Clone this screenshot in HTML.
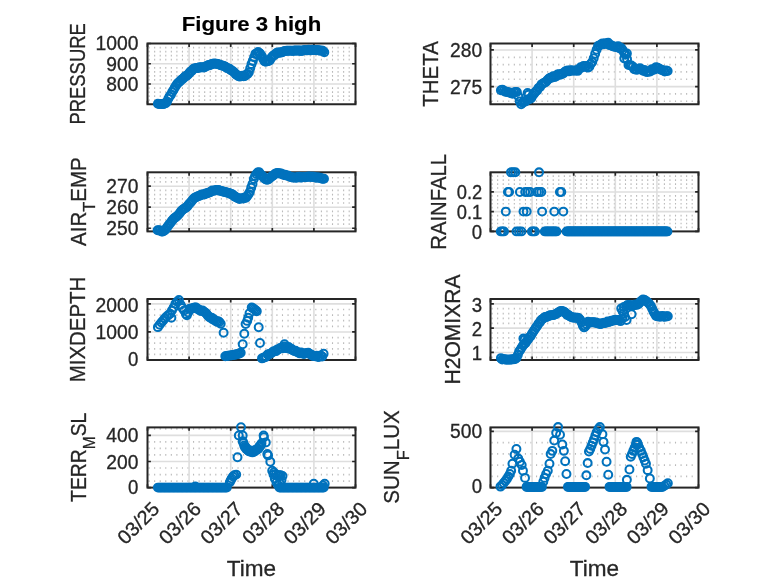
<!DOCTYPE html>
<html lang="en"><head><meta charset="utf-8"><title>Figure 3 high</title>
<style>html,body{margin:0;padding:0;background:#fff}body{width:778px;height:583px;overflow:hidden}svg{display:block}text{font-family:'Liberation Sans', 'DejaVu Sans', sans-serif;fill:#262626;stroke:#262626;stroke-width:.3px}.t{font-size:19.7px}.l{font-size:21.7px}.m circle{fill:none;stroke:#0072BD;stroke-width:2.05}</style></head><body>
<svg width="778" height="583" viewBox="0 0 778 583">
<rect width="778" height="583" fill="#fff"/>
<g><path d="M149.1 99.35v1.7M149.1 95.3v1.7M149.1 91.25v1.7M149.1 87.2v1.7M149.1 79.1v1.7M149.1 75.05v1.7M149.1 71v1.7M149.1 66.95v1.7M149.1 58.85v1.7M149.1 54.8v1.7M149.1 50.75v1.7M149.1 46.7v1.7M154.66 99.35v1.7M154.66 95.3v1.7M154.66 91.25v1.7M154.66 87.2v1.7M154.66 79.1v1.7M154.66 75.05v1.7M154.66 71v1.7M154.66 66.95v1.7M154.66 58.85v1.7M154.66 54.8v1.7M154.66 50.75v1.7M154.66 46.7v1.7M160.22 99.35v1.7M160.22 95.3v1.7M160.22 91.25v1.7M160.22 87.2v1.7M160.22 79.1v1.7M160.22 75.05v1.7M160.22 71v1.7M160.22 66.95v1.7M160.22 58.85v1.7M160.22 54.8v1.7M160.22 50.75v1.7M160.22 46.7v1.7M165.77 99.35v1.7M165.77 95.3v1.7M165.77 91.25v1.7M165.77 87.2v1.7M165.77 79.1v1.7M165.77 75.05v1.7M165.77 71v1.7M165.77 66.95v1.7M165.77 58.85v1.7M165.77 54.8v1.7M165.77 50.75v1.7M165.77 46.7v1.7M171.33 99.35v1.7M171.33 95.3v1.7M171.33 91.25v1.7M171.33 87.2v1.7M171.33 79.1v1.7M171.33 75.05v1.7M171.33 71v1.7M171.33 66.95v1.7M171.33 58.85v1.7M171.33 54.8v1.7M171.33 50.75v1.7M171.33 46.7v1.7M176.89 99.35v1.7M176.89 95.3v1.7M176.89 91.25v1.7M176.89 87.2v1.7M176.89 79.1v1.7M176.89 75.05v1.7M176.89 71v1.7M176.89 66.95v1.7M176.89 58.85v1.7M176.89 54.8v1.7M176.89 50.75v1.7M176.89 46.7v1.7M182.45 99.35v1.7M182.45 95.3v1.7M182.45 91.25v1.7M182.45 87.2v1.7M182.45 79.1v1.7M182.45 75.05v1.7M182.45 71v1.7M182.45 66.95v1.7M182.45 58.85v1.7M182.45 54.8v1.7M182.45 50.75v1.7M182.45 46.7v1.7M188.01 99.35v1.7M188.01 95.3v1.7M188.01 91.25v1.7M188.01 87.2v1.7M188.01 79.1v1.7M188.01 75.05v1.7M188.01 71v1.7M188.01 66.95v1.7M188.01 58.85v1.7M188.01 54.8v1.7M188.01 50.75v1.7M188.01 46.7v1.7M193.56 99.35v1.7M193.56 95.3v1.7M193.56 91.25v1.7M193.56 87.2v1.7M193.56 79.1v1.7M193.56 75.05v1.7M193.56 71v1.7M193.56 66.95v1.7M193.56 58.85v1.7M193.56 54.8v1.7M193.56 50.75v1.7M193.56 46.7v1.7M199.12 99.35v1.7M199.12 95.3v1.7M199.12 91.25v1.7M199.12 87.2v1.7M199.12 79.1v1.7M199.12 75.05v1.7M199.12 71v1.7M199.12 66.95v1.7M199.12 58.85v1.7M199.12 54.8v1.7M199.12 50.75v1.7M199.12 46.7v1.7M204.68 99.35v1.7M204.68 95.3v1.7M204.68 91.25v1.7M204.68 87.2v1.7M204.68 79.1v1.7M204.68 75.05v1.7M204.68 71v1.7M204.68 66.95v1.7M204.68 58.85v1.7M204.68 54.8v1.7M204.68 50.75v1.7M204.68 46.7v1.7M210.24 99.35v1.7M210.24 95.3v1.7M210.24 91.25v1.7M210.24 87.2v1.7M210.24 79.1v1.7M210.24 75.05v1.7M210.24 71v1.7M210.24 66.95v1.7M210.24 58.85v1.7M210.24 54.8v1.7M210.24 50.75v1.7M210.24 46.7v1.7M215.8 99.35v1.7M215.8 95.3v1.7M215.8 91.25v1.7M215.8 87.2v1.7M215.8 79.1v1.7M215.8 75.05v1.7M215.8 71v1.7M215.8 66.95v1.7M215.8 58.85v1.7M215.8 54.8v1.7M215.8 50.75v1.7M215.8 46.7v1.7M221.35 99.35v1.7M221.35 95.3v1.7M221.35 91.25v1.7M221.35 87.2v1.7M221.35 79.1v1.7M221.35 75.05v1.7M221.35 71v1.7M221.35 66.95v1.7M221.35 58.85v1.7M221.35 54.8v1.7M221.35 50.75v1.7M221.35 46.7v1.7M226.91 99.35v1.7M226.91 95.3v1.7M226.91 91.25v1.7M226.91 87.2v1.7M226.91 79.1v1.7M226.91 75.05v1.7M226.91 71v1.7M226.91 66.95v1.7M226.91 58.85v1.7M226.91 54.8v1.7M226.91 50.75v1.7M226.91 46.7v1.7M232.47 99.35v1.7M232.47 95.3v1.7M232.47 91.25v1.7M232.47 87.2v1.7M232.47 79.1v1.7M232.47 75.05v1.7M232.47 71v1.7M232.47 66.95v1.7M232.47 58.85v1.7M232.47 54.8v1.7M232.47 50.75v1.7M232.47 46.7v1.7M238.03 99.35v1.7M238.03 95.3v1.7M238.03 91.25v1.7M238.03 87.2v1.7M238.03 79.1v1.7M238.03 75.05v1.7M238.03 71v1.7M238.03 66.95v1.7M238.03 58.85v1.7M238.03 54.8v1.7M238.03 50.75v1.7M238.03 46.7v1.7M243.59 99.35v1.7M243.59 95.3v1.7M243.59 91.25v1.7M243.59 87.2v1.7M243.59 79.1v1.7M243.59 75.05v1.7M243.59 71v1.7M243.59 66.95v1.7M243.59 58.85v1.7M243.59 54.8v1.7M243.59 50.75v1.7M243.59 46.7v1.7M249.14 99.35v1.7M249.14 95.3v1.7M249.14 91.25v1.7M249.14 87.2v1.7M249.14 79.1v1.7M249.14 75.05v1.7M249.14 71v1.7M249.14 66.95v1.7M249.14 58.85v1.7M249.14 54.8v1.7M249.14 50.75v1.7M249.14 46.7v1.7M254.7 99.35v1.7M254.7 95.3v1.7M254.7 91.25v1.7M254.7 87.2v1.7M254.7 79.1v1.7M254.7 75.05v1.7M254.7 71v1.7M254.7 66.95v1.7M254.7 58.85v1.7M254.7 54.8v1.7M254.7 50.75v1.7M254.7 46.7v1.7M260.26 99.35v1.7M260.26 95.3v1.7M260.26 91.25v1.7M260.26 87.2v1.7M260.26 79.1v1.7M260.26 75.05v1.7M260.26 71v1.7M260.26 66.95v1.7M260.26 58.85v1.7M260.26 54.8v1.7M260.26 50.75v1.7M260.26 46.7v1.7M265.82 99.35v1.7M265.82 95.3v1.7M265.82 91.25v1.7M265.82 87.2v1.7M265.82 79.1v1.7M265.82 75.05v1.7M265.82 71v1.7M265.82 66.95v1.7M265.82 58.85v1.7M265.82 54.8v1.7M265.82 50.75v1.7M265.82 46.7v1.7M271.38 99.35v1.7M271.38 95.3v1.7M271.38 91.25v1.7M271.38 87.2v1.7M271.38 79.1v1.7M271.38 75.05v1.7M271.38 71v1.7M271.38 66.95v1.7M271.38 58.85v1.7M271.38 54.8v1.7M271.38 50.75v1.7M271.38 46.7v1.7M276.93 99.35v1.7M276.93 95.3v1.7M276.93 91.25v1.7M276.93 87.2v1.7M276.93 79.1v1.7M276.93 75.05v1.7M276.93 71v1.7M276.93 66.95v1.7M276.93 58.85v1.7M276.93 54.8v1.7M276.93 50.75v1.7M276.93 46.7v1.7M282.49 99.35v1.7M282.49 95.3v1.7M282.49 91.25v1.7M282.49 87.2v1.7M282.49 79.1v1.7M282.49 75.05v1.7M282.49 71v1.7M282.49 66.95v1.7M282.49 58.85v1.7M282.49 54.8v1.7M282.49 50.75v1.7M282.49 46.7v1.7M288.05 99.35v1.7M288.05 95.3v1.7M288.05 91.25v1.7M288.05 87.2v1.7M288.05 79.1v1.7M288.05 75.05v1.7M288.05 71v1.7M288.05 66.95v1.7M288.05 58.85v1.7M288.05 54.8v1.7M288.05 50.75v1.7M288.05 46.7v1.7M293.61 99.35v1.7M293.61 95.3v1.7M293.61 91.25v1.7M293.61 87.2v1.7M293.61 79.1v1.7M293.61 75.05v1.7M293.61 71v1.7M293.61 66.95v1.7M293.61 58.85v1.7M293.61 54.8v1.7M293.61 50.75v1.7M293.61 46.7v1.7M299.17 99.35v1.7M299.17 95.3v1.7M299.17 91.25v1.7M299.17 87.2v1.7M299.17 79.1v1.7M299.17 75.05v1.7M299.17 71v1.7M299.17 66.95v1.7M299.17 58.85v1.7M299.17 54.8v1.7M299.17 50.75v1.7M299.17 46.7v1.7M304.72 99.35v1.7M304.72 95.3v1.7M304.72 91.25v1.7M304.72 87.2v1.7M304.72 79.1v1.7M304.72 75.05v1.7M304.72 71v1.7M304.72 66.95v1.7M304.72 58.85v1.7M304.72 54.8v1.7M304.72 50.75v1.7M304.72 46.7v1.7M310.28 99.35v1.7M310.28 95.3v1.7M310.28 91.25v1.7M310.28 87.2v1.7M310.28 79.1v1.7M310.28 75.05v1.7M310.28 71v1.7M310.28 66.95v1.7M310.28 58.85v1.7M310.28 54.8v1.7M310.28 50.75v1.7M310.28 46.7v1.7M315.84 99.35v1.7M315.84 95.3v1.7M315.84 91.25v1.7M315.84 87.2v1.7M315.84 79.1v1.7M315.84 75.05v1.7M315.84 71v1.7M315.84 66.95v1.7M315.84 58.85v1.7M315.84 54.8v1.7M315.84 50.75v1.7M315.84 46.7v1.7M321.4 99.35v1.7M321.4 95.3v1.7M321.4 91.25v1.7M321.4 87.2v1.7M321.4 79.1v1.7M321.4 75.05v1.7M321.4 71v1.7M321.4 66.95v1.7M321.4 58.85v1.7M321.4 54.8v1.7M321.4 50.75v1.7M321.4 46.7v1.7M326.96 99.35v1.7M326.96 95.3v1.7M326.96 91.25v1.7M326.96 87.2v1.7M326.96 79.1v1.7M326.96 75.05v1.7M326.96 71v1.7M326.96 66.95v1.7M326.96 58.85v1.7M326.96 54.8v1.7M326.96 50.75v1.7M326.96 46.7v1.7M332.51 99.35v1.7M332.51 95.3v1.7M332.51 91.25v1.7M332.51 87.2v1.7M332.51 79.1v1.7M332.51 75.05v1.7M332.51 71v1.7M332.51 66.95v1.7M332.51 58.85v1.7M332.51 54.8v1.7M332.51 50.75v1.7M332.51 46.7v1.7M338.07 99.35v1.7M338.07 95.3v1.7M338.07 91.25v1.7M338.07 87.2v1.7M338.07 79.1v1.7M338.07 75.05v1.7M338.07 71v1.7M338.07 66.95v1.7M338.07 58.85v1.7M338.07 54.8v1.7M338.07 50.75v1.7M338.07 46.7v1.7M343.63 99.35v1.7M343.63 95.3v1.7M343.63 91.25v1.7M343.63 87.2v1.7M343.63 79.1v1.7M343.63 75.05v1.7M343.63 71v1.7M343.63 66.95v1.7M343.63 58.85v1.7M343.63 54.8v1.7M343.63 50.75v1.7M343.63 46.7v1.7M349.19 99.35v1.7M349.19 95.3v1.7M349.19 91.25v1.7M349.19 87.2v1.7M349.19 79.1v1.7M349.19 75.05v1.7M349.19 71v1.7M349.19 66.95v1.7M349.19 58.85v1.7M349.19 54.8v1.7M349.19 50.75v1.7M349.19 46.7v1.7" stroke="#bababa" stroke-width="1.1" fill="none"/><path d="M189.1 43.5V104.25M230.7 43.5V104.25M272.3 43.5V104.25M313.9 43.5V104.25M147.5 84H355.5M147.5 63.75H355.5" stroke="#dedede" stroke-width="1.6" fill="none"/><path d="M147.5 104.25v-3.4M147.5 43.5v3.4M189.1 104.25v-3.4M189.1 43.5v3.4M230.7 104.25v-3.4M230.7 43.5v3.4M272.3 104.25v-3.4M272.3 43.5v3.4M313.9 104.25v-3.4M313.9 43.5v3.4M355.5 104.25v-3.4M355.5 43.5v3.4M147.5 84h3.4M355.5 84h-3.4M147.5 63.75h3.4M355.5 63.75h-3.4M147.5 43.5h3.4M355.5 43.5h-3.4" stroke="#262626" stroke-width="1.7" fill="none"/><rect x="147.5" y="43.5" width="208" height="60.75" fill="none" stroke="#262626" stroke-width="2"/><text class="t" x="138.4" y="91" text-anchor="end" textLength="32.1" lengthAdjust="spacingAndGlyphs">800</text><text class="t" x="138.4" y="70.8" text-anchor="end" textLength="32.1" lengthAdjust="spacingAndGlyphs">900</text><text class="t" x="138.4" y="49.9" text-anchor="end" textLength="42.97" lengthAdjust="spacingAndGlyphs">1000</text><text class="l" transform="translate(84.8 73.88) rotate(-90)" text-anchor="middle" textLength="101.4" lengthAdjust="spacingAndGlyphs">PRESSURE</text><g class="m"><circle cx="157.9" cy="103.74" r="3.95"/><circle cx="159.2" cy="104.04" r="3.95"/><circle cx="160.5" cy="103.87" r="3.95"/><circle cx="161.8" cy="104.1" r="3.95"/><circle cx="163.1" cy="104.13" r="3.95"/><circle cx="164.4" cy="103.57" r="3.95"/><circle cx="165.7" cy="103.33" r="3.95"/><circle cx="167" cy="101.76" r="3.95"/><circle cx="168.3" cy="98.78" r="3.95"/><circle cx="169.6" cy="96.36" r="3.95"/><circle cx="170.9" cy="94.75" r="3.95"/><circle cx="172.2" cy="91.97" r="3.95"/><circle cx="173.5" cy="90.09" r="3.95"/><circle cx="174.8" cy="87.48" r="3.95"/><circle cx="176.1" cy="85.5" r="3.95"/><circle cx="177.4" cy="83.47" r="3.95"/><circle cx="178.7" cy="82.42" r="3.95"/><circle cx="180" cy="81.22" r="3.95"/><circle cx="181.3" cy="79.81" r="3.95"/><circle cx="182.6" cy="78.96" r="3.95"/><circle cx="183.9" cy="77.84" r="3.95"/><circle cx="185.2" cy="76.24" r="3.95"/><circle cx="186.5" cy="75.94" r="3.95"/><circle cx="187.8" cy="74.78" r="3.95"/><circle cx="189.1" cy="73.36" r="3.95"/><circle cx="190.4" cy="71.63" r="3.95"/><circle cx="191.7" cy="71.02" r="3.95"/><circle cx="193" cy="69.18" r="3.95"/><circle cx="194.3" cy="68.36" r="3.95"/><circle cx="195.6" cy="68.34" r="3.95"/><circle cx="196.9" cy="67.99" r="3.95"/><circle cx="198.2" cy="68.02" r="3.95"/><circle cx="199.5" cy="67.31" r="3.95"/><circle cx="200.8" cy="67.56" r="3.95"/><circle cx="202.1" cy="67.11" r="3.95"/><circle cx="203.4" cy="67.5" r="3.95"/><circle cx="204.7" cy="67.34" r="3.95"/><circle cx="206" cy="66.25" r="3.95"/><circle cx="207.3" cy="65.65" r="3.95"/><circle cx="208.6" cy="65.1" r="3.95"/><circle cx="209.9" cy="65.21" r="3.95"/><circle cx="211.2" cy="64.2" r="3.95"/><circle cx="212.5" cy="64.09" r="3.95"/><circle cx="213.8" cy="63.46" r="3.95"/><circle cx="215.1" cy="63.64" r="3.95"/><circle cx="216.4" cy="63.8" r="3.95"/><circle cx="217.7" cy="64.04" r="3.95"/><circle cx="219" cy="64.56" r="3.95"/><circle cx="220.3" cy="64.87" r="3.95"/><circle cx="221.6" cy="65.52" r="3.95"/><circle cx="222.9" cy="65.64" r="3.95"/><circle cx="224.2" cy="66.22" r="3.95"/><circle cx="225.5" cy="66.74" r="3.95"/><circle cx="226.8" cy="67.86" r="3.95"/><circle cx="228.1" cy="68.47" r="3.95"/><circle cx="229.4" cy="68.63" r="3.95"/><circle cx="230.7" cy="69.99" r="3.95"/><circle cx="232" cy="70.75" r="3.95"/><circle cx="233.3" cy="71.55" r="3.95"/><circle cx="234.6" cy="72.72" r="3.95"/><circle cx="235.9" cy="74.36" r="3.95"/><circle cx="237.2" cy="75.13" r="3.95"/><circle cx="238.5" cy="76.28" r="3.95"/><circle cx="239.8" cy="76.55" r="3.95"/><circle cx="241.1" cy="76.16" r="3.95"/><circle cx="242.4" cy="75.65" r="3.95"/><circle cx="243.7" cy="76.15" r="3.95"/><circle cx="245" cy="75.99" r="3.95"/><circle cx="246.3" cy="74.49" r="3.95"/><circle cx="247.6" cy="73.9" r="3.95"/><circle cx="248.9" cy="72.21" r="3.95"/><circle cx="250.2" cy="68.2" r="3.95"/><circle cx="251.5" cy="64.14" r="3.95"/><circle cx="252.8" cy="60.88" r="3.95"/><circle cx="254.1" cy="57.32" r="3.95"/><circle cx="255.4" cy="53.88" r="3.95"/><circle cx="256.7" cy="53.49" r="3.95"/><circle cx="258" cy="51.96" r="3.95"/><circle cx="259.3" cy="52.89" r="3.95"/><circle cx="260.6" cy="54.17" r="3.95"/><circle cx="261.9" cy="56.38" r="3.95"/><circle cx="263.2" cy="59.08" r="3.95"/><circle cx="264.5" cy="61.21" r="3.95"/><circle cx="265.8" cy="61.76" r="3.95"/><circle cx="267.1" cy="61.13" r="3.95"/><circle cx="268.4" cy="60.95" r="3.95"/><circle cx="269.7" cy="60.53" r="3.95"/><circle cx="271" cy="58.16" r="3.95"/><circle cx="272.3" cy="56.53" r="3.95"/><circle cx="273.6" cy="55.39" r="3.95"/><circle cx="274.9" cy="54.64" r="3.95"/><circle cx="276.2" cy="53.22" r="3.95"/><circle cx="277.5" cy="52.54" r="3.95"/><circle cx="278.8" cy="53.04" r="3.95"/><circle cx="280.1" cy="52.16" r="3.95"/><circle cx="281.4" cy="52.48" r="3.95"/><circle cx="282.7" cy="52.09" r="3.95"/><circle cx="284" cy="51.24" r="3.95"/><circle cx="285.3" cy="50.99" r="3.95"/><circle cx="286.6" cy="50.72" r="3.95"/><circle cx="287.9" cy="50.73" r="3.95"/><circle cx="289.2" cy="50.67" r="3.95"/><circle cx="290.5" cy="50.62" r="3.95"/><circle cx="291.8" cy="50.66" r="3.95"/><circle cx="293.1" cy="50.96" r="3.95"/><circle cx="294.4" cy="50.51" r="3.95"/><circle cx="295.7" cy="50.46" r="3.95"/><circle cx="297" cy="50.81" r="3.95"/><circle cx="298.3" cy="50.38" r="3.95"/><circle cx="299.6" cy="50.5" r="3.95"/><circle cx="300.9" cy="51.11" r="3.95"/><circle cx="302.2" cy="50.59" r="3.95"/><circle cx="303.5" cy="50.55" r="3.95"/><circle cx="304.8" cy="49.95" r="3.95"/><circle cx="306.1" cy="50.29" r="3.95"/><circle cx="307.4" cy="50.39" r="3.95"/><circle cx="308.7" cy="49.76" r="3.95"/><circle cx="310" cy="50.29" r="3.95"/><circle cx="311.3" cy="50.25" r="3.95"/><circle cx="312.6" cy="49.61" r="3.95"/><circle cx="313.9" cy="50.14" r="3.95"/><circle cx="315.2" cy="50.06" r="3.95"/><circle cx="316.5" cy="50.34" r="3.95"/><circle cx="317.8" cy="50.09" r="3.95"/><circle cx="319.1" cy="50.52" r="3.95"/><circle cx="320.4" cy="50.62" r="3.95"/><circle cx="321.7" cy="50.36" r="3.95"/><circle cx="323" cy="50.98" r="3.95"/><circle cx="324.3" cy="52.17" r="3.95"/></g><text x="251.5" y="30.5" text-anchor="middle" font-size="21px" font-weight="bold" style="fill:#000;stroke:#000;stroke-width:.15px" textLength="139.5" lengthAdjust="spacingAndGlyphs">Figure 3 high</text></g>
<g><path d="M492.1 100.4v1.7M492.1 93.07v1.7M492.1 78.41v1.7M492.1 71.08v1.7M492.1 63.75v1.7M492.1 56.43v1.7M497.66 100.4v1.7M497.66 93.07v1.7M497.66 78.41v1.7M497.66 71.08v1.7M497.66 63.75v1.7M497.66 56.43v1.7M503.22 100.4v1.7M503.22 93.07v1.7M503.22 78.41v1.7M503.22 71.08v1.7M503.22 63.75v1.7M503.22 56.43v1.7M508.77 100.4v1.7M508.77 93.07v1.7M508.77 78.41v1.7M508.77 71.08v1.7M508.77 63.75v1.7M508.77 56.43v1.7M514.33 100.4v1.7M514.33 93.07v1.7M514.33 78.41v1.7M514.33 71.08v1.7M514.33 63.75v1.7M514.33 56.43v1.7M519.89 100.4v1.7M519.89 93.07v1.7M519.89 78.41v1.7M519.89 71.08v1.7M519.89 63.75v1.7M519.89 56.43v1.7M525.45 100.4v1.7M525.45 93.07v1.7M525.45 78.41v1.7M525.45 71.08v1.7M525.45 63.75v1.7M525.45 56.43v1.7M531.01 100.4v1.7M531.01 93.07v1.7M531.01 78.41v1.7M531.01 71.08v1.7M531.01 63.75v1.7M531.01 56.43v1.7M536.56 100.4v1.7M536.56 93.07v1.7M536.56 78.41v1.7M536.56 71.08v1.7M536.56 63.75v1.7M536.56 56.43v1.7M542.12 100.4v1.7M542.12 93.07v1.7M542.12 78.41v1.7M542.12 71.08v1.7M542.12 63.75v1.7M542.12 56.43v1.7M547.68 100.4v1.7M547.68 93.07v1.7M547.68 78.41v1.7M547.68 71.08v1.7M547.68 63.75v1.7M547.68 56.43v1.7M553.24 100.4v1.7M553.24 93.07v1.7M553.24 78.41v1.7M553.24 71.08v1.7M553.24 63.75v1.7M553.24 56.43v1.7M558.8 100.4v1.7M558.8 93.07v1.7M558.8 78.41v1.7M558.8 71.08v1.7M558.8 63.75v1.7M558.8 56.43v1.7M564.35 100.4v1.7M564.35 93.07v1.7M564.35 78.41v1.7M564.35 71.08v1.7M564.35 63.75v1.7M564.35 56.43v1.7M569.91 100.4v1.7M569.91 93.07v1.7M569.91 78.41v1.7M569.91 71.08v1.7M569.91 63.75v1.7M569.91 56.43v1.7M575.47 100.4v1.7M575.47 93.07v1.7M575.47 78.41v1.7M575.47 71.08v1.7M575.47 63.75v1.7M575.47 56.43v1.7M581.03 100.4v1.7M581.03 93.07v1.7M581.03 78.41v1.7M581.03 71.08v1.7M581.03 63.75v1.7M581.03 56.43v1.7M586.59 100.4v1.7M586.59 93.07v1.7M586.59 78.41v1.7M586.59 71.08v1.7M586.59 63.75v1.7M586.59 56.43v1.7M592.14 100.4v1.7M592.14 93.07v1.7M592.14 78.41v1.7M592.14 71.08v1.7M592.14 63.75v1.7M592.14 56.43v1.7M597.7 100.4v1.7M597.7 93.07v1.7M597.7 78.41v1.7M597.7 71.08v1.7M597.7 63.75v1.7M597.7 56.43v1.7M603.26 100.4v1.7M603.26 93.07v1.7M603.26 78.41v1.7M603.26 71.08v1.7M603.26 63.75v1.7M603.26 56.43v1.7M608.82 100.4v1.7M608.82 93.07v1.7M608.82 78.41v1.7M608.82 71.08v1.7M608.82 63.75v1.7M608.82 56.43v1.7M614.38 100.4v1.7M614.38 93.07v1.7M614.38 78.41v1.7M614.38 71.08v1.7M614.38 63.75v1.7M614.38 56.43v1.7M619.93 100.4v1.7M619.93 93.07v1.7M619.93 78.41v1.7M619.93 71.08v1.7M619.93 63.75v1.7M619.93 56.43v1.7M625.49 100.4v1.7M625.49 93.07v1.7M625.49 78.41v1.7M625.49 71.08v1.7M625.49 63.75v1.7M625.49 56.43v1.7M631.05 100.4v1.7M631.05 93.07v1.7M631.05 78.41v1.7M631.05 71.08v1.7M631.05 63.75v1.7M631.05 56.43v1.7M636.61 100.4v1.7M636.61 93.07v1.7M636.61 78.41v1.7M636.61 71.08v1.7M636.61 63.75v1.7M636.61 56.43v1.7M642.17 100.4v1.7M642.17 93.07v1.7M642.17 78.41v1.7M642.17 71.08v1.7M642.17 63.75v1.7M642.17 56.43v1.7M647.72 100.4v1.7M647.72 93.07v1.7M647.72 78.41v1.7M647.72 71.08v1.7M647.72 63.75v1.7M647.72 56.43v1.7M653.28 100.4v1.7M653.28 93.07v1.7M653.28 78.41v1.7M653.28 71.08v1.7M653.28 63.75v1.7M653.28 56.43v1.7M658.84 100.4v1.7M658.84 93.07v1.7M658.84 78.41v1.7M658.84 71.08v1.7M658.84 63.75v1.7M658.84 56.43v1.7M664.4 100.4v1.7M664.4 93.07v1.7M664.4 78.41v1.7M664.4 71.08v1.7M664.4 63.75v1.7M664.4 56.43v1.7M669.96 100.4v1.7M669.96 93.07v1.7M669.96 78.41v1.7M669.96 71.08v1.7M669.96 63.75v1.7M669.96 56.43v1.7M675.51 100.4v1.7M675.51 93.07v1.7M675.51 78.41v1.7M675.51 71.08v1.7M675.51 63.75v1.7M675.51 56.43v1.7M681.07 100.4v1.7M681.07 93.07v1.7M681.07 78.41v1.7M681.07 71.08v1.7M681.07 63.75v1.7M681.07 56.43v1.7M686.63 100.4v1.7M686.63 93.07v1.7M686.63 78.41v1.7M686.63 71.08v1.7M686.63 63.75v1.7M686.63 56.43v1.7M692.19 100.4v1.7M692.19 93.07v1.7M692.19 78.41v1.7M692.19 71.08v1.7M692.19 63.75v1.7M692.19 56.43v1.7" stroke="#bababa" stroke-width="1.1" fill="none"/><path d="M532.1 43.5V104.25M573.7 43.5V104.25M615.3 43.5V104.25M656.9 43.5V104.25M490.5 86.59H698.5M490.5 49.95H698.5" stroke="#dedede" stroke-width="1.6" fill="none"/><path d="M490.5 104.25v-3.4M490.5 43.5v3.4M532.1 104.25v-3.4M532.1 43.5v3.4M573.7 104.25v-3.4M573.7 43.5v3.4M615.3 104.25v-3.4M615.3 43.5v3.4M656.9 104.25v-3.4M656.9 43.5v3.4M698.5 104.25v-3.4M698.5 43.5v3.4M490.5 86.59h3.4M698.5 86.59h-3.4M490.5 49.95h3.4M698.5 49.95h-3.4" stroke="#262626" stroke-width="1.7" fill="none"/><rect x="490.5" y="43.5" width="208" height="60.75" fill="none" stroke="#262626" stroke-width="2"/><text class="t" x="482.2" y="93.9" text-anchor="end" textLength="32.1" lengthAdjust="spacingAndGlyphs">275</text><text class="t" x="482.2" y="56.8" text-anchor="end" textLength="32.1" lengthAdjust="spacingAndGlyphs">280</text><text class="l" transform="translate(437.8 73.88) rotate(-90)" text-anchor="middle" textLength="65.6" lengthAdjust="spacingAndGlyphs">THETA</text><g class="m"><circle cx="500.9" cy="90.33" r="3.95"/><circle cx="502.35" cy="89.64" r="3.95"/><circle cx="503.8" cy="90.79" r="3.95"/><circle cx="505.25" cy="91.8" r="3.95"/><circle cx="506.7" cy="91.82" r="3.95"/><circle cx="508.15" cy="92.27" r="3.95"/><circle cx="509.6" cy="92.53" r="3.95"/><circle cx="511.05" cy="93" r="3.95"/><circle cx="512.5" cy="93.74" r="3.95"/><circle cx="513.95" cy="92.48" r="3.95"/><circle cx="515.4" cy="91.95" r="3.95"/><circle cx="516.85" cy="92.07" r="3.95"/><circle cx="518.3" cy="96.29" r="3.95"/><circle cx="519.75" cy="101.37" r="3.95"/><circle cx="521.2" cy="104.31" r="3.95"/><circle cx="522.65" cy="102.79" r="3.95"/><circle cx="524.1" cy="101.43" r="3.95"/><circle cx="525.55" cy="101.52" r="3.95"/><circle cx="527" cy="99.91" r="3.95"/><circle cx="528.45" cy="99.32" r="3.95"/><circle cx="529.9" cy="98.87" r="3.95"/><circle cx="531.35" cy="97.95" r="3.95"/><circle cx="532.8" cy="95.14" r="3.95"/><circle cx="534.25" cy="93.54" r="3.95"/><circle cx="535.7" cy="91.53" r="3.95"/><circle cx="537.15" cy="90.59" r="3.95"/><circle cx="538.6" cy="87.85" r="3.95"/><circle cx="540.05" cy="87.03" r="3.95"/><circle cx="541.5" cy="84.36" r="3.95"/><circle cx="542.95" cy="83.41" r="3.95"/><circle cx="544.4" cy="82.74" r="3.95"/><circle cx="545.85" cy="81.91" r="3.95"/><circle cx="547.3" cy="80.15" r="3.95"/><circle cx="548.75" cy="78.81" r="3.95"/><circle cx="550.2" cy="77.72" r="3.95"/><circle cx="551.65" cy="77.66" r="3.95"/><circle cx="553.1" cy="76.27" r="3.95"/><circle cx="554.55" cy="76.93" r="3.95"/><circle cx="556" cy="76.43" r="3.95"/><circle cx="557.45" cy="74.56" r="3.95"/><circle cx="558.9" cy="74.18" r="3.95"/><circle cx="560.35" cy="74.65" r="3.95"/><circle cx="561.8" cy="73.74" r="3.95"/><circle cx="563.25" cy="73.49" r="3.95"/><circle cx="564.7" cy="71.99" r="3.95"/><circle cx="566.15" cy="70.87" r="3.95"/><circle cx="567.6" cy="70.44" r="3.95"/><circle cx="569.05" cy="71.39" r="3.95"/><circle cx="570.5" cy="70.34" r="3.95"/><circle cx="571.95" cy="70.49" r="3.95"/><circle cx="573.4" cy="70.63" r="3.95"/><circle cx="574.85" cy="70.64" r="3.95"/><circle cx="576.3" cy="70.32" r="3.95"/><circle cx="577.75" cy="70.86" r="3.95"/><circle cx="579.2" cy="68.85" r="3.95"/><circle cx="580.65" cy="67.16" r="3.95"/><circle cx="582.1" cy="67.59" r="3.95"/><circle cx="583.55" cy="66.01" r="3.95"/><circle cx="585" cy="66.48" r="3.95"/><circle cx="586.45" cy="65.99" r="3.95"/><circle cx="587.9" cy="67.63" r="3.95"/><circle cx="589.35" cy="66.7" r="3.95"/><circle cx="590.8" cy="63.84" r="3.95"/><circle cx="592.25" cy="62.08" r="3.95"/><circle cx="593.7" cy="58.19" r="3.95"/><circle cx="595.15" cy="53.86" r="3.95"/><circle cx="596.6" cy="49.81" r="3.95"/><circle cx="598.05" cy="45.91" r="3.95"/><circle cx="599.5" cy="45.37" r="3.95"/><circle cx="600.95" cy="44.5" r="3.95"/><circle cx="602.4" cy="43.54" r="3.95"/><circle cx="603.85" cy="44.16" r="3.95"/><circle cx="605.3" cy="43.14" r="3.95"/><circle cx="606.75" cy="43.76" r="3.95"/><circle cx="608.2" cy="42.77" r="3.95"/><circle cx="609.65" cy="45.13" r="3.95"/><circle cx="611.1" cy="45.35" r="3.95"/><circle cx="612.55" cy="46.24" r="3.95"/><circle cx="614" cy="46.54" r="3.95"/><circle cx="615.45" cy="46.91" r="3.95"/><circle cx="616.9" cy="46.7" r="3.95"/><circle cx="618.35" cy="46.28" r="3.95"/><circle cx="619.8" cy="48.46" r="3.95"/><circle cx="621.25" cy="48.02" r="3.95"/><circle cx="622.7" cy="49.99" r="3.95"/><circle cx="624.15" cy="52.87" r="3.95"/><circle cx="625.6" cy="54.75" r="3.95"/><circle cx="627.05" cy="59.18" r="3.95"/><circle cx="628.5" cy="64.88" r="3.95"/><circle cx="629.95" cy="65.18" r="3.95"/><circle cx="631.4" cy="65.59" r="3.95"/><circle cx="632.85" cy="66.63" r="3.95"/><circle cx="634.3" cy="69.25" r="3.95"/><circle cx="635.75" cy="69.4" r="3.95"/><circle cx="637.2" cy="69.84" r="3.95"/><circle cx="638.65" cy="68.81" r="3.95"/><circle cx="640.1" cy="68.33" r="3.95"/><circle cx="641.55" cy="69.48" r="3.95"/><circle cx="643" cy="70.68" r="3.95"/><circle cx="644.45" cy="70.03" r="3.95"/><circle cx="645.9" cy="71.76" r="3.95"/><circle cx="647.35" cy="71.91" r="3.95"/><circle cx="648.8" cy="71.56" r="3.95"/><circle cx="650.25" cy="71.48" r="3.95"/><circle cx="651.7" cy="69.3" r="3.95"/><circle cx="653.15" cy="69.79" r="3.95"/><circle cx="654.6" cy="69.51" r="3.95"/><circle cx="656.05" cy="67.13" r="3.95"/><circle cx="657.5" cy="67.76" r="3.95"/><circle cx="658.95" cy="68.35" r="3.95"/><circle cx="660.4" cy="69.47" r="3.95"/><circle cx="661.85" cy="69.86" r="3.95"/><circle cx="663.3" cy="70.47" r="3.95"/><circle cx="664.75" cy="71.56" r="3.95"/><circle cx="666.2" cy="70.48" r="3.95"/><circle cx="667.65" cy="71.06" r="3.95"/><circle cx="527.6" cy="93" r="3.95"/><circle cx="528.5" cy="94.6" r="3.95"/><circle cx="626.9" cy="53.4" r="3.95"/><circle cx="624.3" cy="58.6" r="3.95"/></g></g>
<g><path d="M149.1 223.19v1.7M149.1 218.98v1.7M149.1 214.78v1.7M149.1 210.57v1.7M149.1 202.16v1.7M149.1 197.95v1.7M149.1 193.74v1.7M149.1 189.54v1.7M149.1 181.12v1.7M149.1 176.92v1.7M154.66 223.19v1.7M154.66 218.98v1.7M154.66 214.78v1.7M154.66 210.57v1.7M154.66 202.16v1.7M154.66 197.95v1.7M154.66 193.74v1.7M154.66 189.54v1.7M154.66 181.12v1.7M154.66 176.92v1.7M160.22 223.19v1.7M160.22 218.98v1.7M160.22 214.78v1.7M160.22 210.57v1.7M160.22 202.16v1.7M160.22 197.95v1.7M160.22 193.74v1.7M160.22 189.54v1.7M160.22 181.12v1.7M160.22 176.92v1.7M165.77 223.19v1.7M165.77 218.98v1.7M165.77 214.78v1.7M165.77 210.57v1.7M165.77 202.16v1.7M165.77 197.95v1.7M165.77 193.74v1.7M165.77 189.54v1.7M165.77 181.12v1.7M165.77 176.92v1.7M171.33 223.19v1.7M171.33 218.98v1.7M171.33 214.78v1.7M171.33 210.57v1.7M171.33 202.16v1.7M171.33 197.95v1.7M171.33 193.74v1.7M171.33 189.54v1.7M171.33 181.12v1.7M171.33 176.92v1.7M176.89 223.19v1.7M176.89 218.98v1.7M176.89 214.78v1.7M176.89 210.57v1.7M176.89 202.16v1.7M176.89 197.95v1.7M176.89 193.74v1.7M176.89 189.54v1.7M176.89 181.12v1.7M176.89 176.92v1.7M182.45 223.19v1.7M182.45 218.98v1.7M182.45 214.78v1.7M182.45 210.57v1.7M182.45 202.16v1.7M182.45 197.95v1.7M182.45 193.74v1.7M182.45 189.54v1.7M182.45 181.12v1.7M182.45 176.92v1.7M188.01 223.19v1.7M188.01 218.98v1.7M188.01 214.78v1.7M188.01 210.57v1.7M188.01 202.16v1.7M188.01 197.95v1.7M188.01 193.74v1.7M188.01 189.54v1.7M188.01 181.12v1.7M188.01 176.92v1.7M193.56 223.19v1.7M193.56 218.98v1.7M193.56 214.78v1.7M193.56 210.57v1.7M193.56 202.16v1.7M193.56 197.95v1.7M193.56 193.74v1.7M193.56 189.54v1.7M193.56 181.12v1.7M193.56 176.92v1.7M199.12 223.19v1.7M199.12 218.98v1.7M199.12 214.78v1.7M199.12 210.57v1.7M199.12 202.16v1.7M199.12 197.95v1.7M199.12 193.74v1.7M199.12 189.54v1.7M199.12 181.12v1.7M199.12 176.92v1.7M204.68 223.19v1.7M204.68 218.98v1.7M204.68 214.78v1.7M204.68 210.57v1.7M204.68 202.16v1.7M204.68 197.95v1.7M204.68 193.74v1.7M204.68 189.54v1.7M204.68 181.12v1.7M204.68 176.92v1.7M210.24 223.19v1.7M210.24 218.98v1.7M210.24 214.78v1.7M210.24 210.57v1.7M210.24 202.16v1.7M210.24 197.95v1.7M210.24 193.74v1.7M210.24 189.54v1.7M210.24 181.12v1.7M210.24 176.92v1.7M215.8 223.19v1.7M215.8 218.98v1.7M215.8 214.78v1.7M215.8 210.57v1.7M215.8 202.16v1.7M215.8 197.95v1.7M215.8 193.74v1.7M215.8 189.54v1.7M215.8 181.12v1.7M215.8 176.92v1.7M221.35 223.19v1.7M221.35 218.98v1.7M221.35 214.78v1.7M221.35 210.57v1.7M221.35 202.16v1.7M221.35 197.95v1.7M221.35 193.74v1.7M221.35 189.54v1.7M221.35 181.12v1.7M221.35 176.92v1.7M226.91 223.19v1.7M226.91 218.98v1.7M226.91 214.78v1.7M226.91 210.57v1.7M226.91 202.16v1.7M226.91 197.95v1.7M226.91 193.74v1.7M226.91 189.54v1.7M226.91 181.12v1.7M226.91 176.92v1.7M232.47 223.19v1.7M232.47 218.98v1.7M232.47 214.78v1.7M232.47 210.57v1.7M232.47 202.16v1.7M232.47 197.95v1.7M232.47 193.74v1.7M232.47 189.54v1.7M232.47 181.12v1.7M232.47 176.92v1.7M238.03 223.19v1.7M238.03 218.98v1.7M238.03 214.78v1.7M238.03 210.57v1.7M238.03 202.16v1.7M238.03 197.95v1.7M238.03 193.74v1.7M238.03 189.54v1.7M238.03 181.12v1.7M238.03 176.92v1.7M243.59 223.19v1.7M243.59 218.98v1.7M243.59 214.78v1.7M243.59 210.57v1.7M243.59 202.16v1.7M243.59 197.95v1.7M243.59 193.74v1.7M243.59 189.54v1.7M243.59 181.12v1.7M243.59 176.92v1.7M249.14 223.19v1.7M249.14 218.98v1.7M249.14 214.78v1.7M249.14 210.57v1.7M249.14 202.16v1.7M249.14 197.95v1.7M249.14 193.74v1.7M249.14 189.54v1.7M249.14 181.12v1.7M249.14 176.92v1.7M254.7 223.19v1.7M254.7 218.98v1.7M254.7 214.78v1.7M254.7 210.57v1.7M254.7 202.16v1.7M254.7 197.95v1.7M254.7 193.74v1.7M254.7 189.54v1.7M254.7 181.12v1.7M254.7 176.92v1.7M260.26 223.19v1.7M260.26 218.98v1.7M260.26 214.78v1.7M260.26 210.57v1.7M260.26 202.16v1.7M260.26 197.95v1.7M260.26 193.74v1.7M260.26 189.54v1.7M260.26 181.12v1.7M260.26 176.92v1.7M265.82 223.19v1.7M265.82 218.98v1.7M265.82 214.78v1.7M265.82 210.57v1.7M265.82 202.16v1.7M265.82 197.95v1.7M265.82 193.74v1.7M265.82 189.54v1.7M265.82 181.12v1.7M265.82 176.92v1.7M271.38 223.19v1.7M271.38 218.98v1.7M271.38 214.78v1.7M271.38 210.57v1.7M271.38 202.16v1.7M271.38 197.95v1.7M271.38 193.74v1.7M271.38 189.54v1.7M271.38 181.12v1.7M271.38 176.92v1.7M276.93 223.19v1.7M276.93 218.98v1.7M276.93 214.78v1.7M276.93 210.57v1.7M276.93 202.16v1.7M276.93 197.95v1.7M276.93 193.74v1.7M276.93 189.54v1.7M276.93 181.12v1.7M276.93 176.92v1.7M282.49 223.19v1.7M282.49 218.98v1.7M282.49 214.78v1.7M282.49 210.57v1.7M282.49 202.16v1.7M282.49 197.95v1.7M282.49 193.74v1.7M282.49 189.54v1.7M282.49 181.12v1.7M282.49 176.92v1.7M288.05 223.19v1.7M288.05 218.98v1.7M288.05 214.78v1.7M288.05 210.57v1.7M288.05 202.16v1.7M288.05 197.95v1.7M288.05 193.74v1.7M288.05 189.54v1.7M288.05 181.12v1.7M288.05 176.92v1.7M293.61 223.19v1.7M293.61 218.98v1.7M293.61 214.78v1.7M293.61 210.57v1.7M293.61 202.16v1.7M293.61 197.95v1.7M293.61 193.74v1.7M293.61 189.54v1.7M293.61 181.12v1.7M293.61 176.92v1.7M299.17 223.19v1.7M299.17 218.98v1.7M299.17 214.78v1.7M299.17 210.57v1.7M299.17 202.16v1.7M299.17 197.95v1.7M299.17 193.74v1.7M299.17 189.54v1.7M299.17 181.12v1.7M299.17 176.92v1.7M304.72 223.19v1.7M304.72 218.98v1.7M304.72 214.78v1.7M304.72 210.57v1.7M304.72 202.16v1.7M304.72 197.95v1.7M304.72 193.74v1.7M304.72 189.54v1.7M304.72 181.12v1.7M304.72 176.92v1.7M310.28 223.19v1.7M310.28 218.98v1.7M310.28 214.78v1.7M310.28 210.57v1.7M310.28 202.16v1.7M310.28 197.95v1.7M310.28 193.74v1.7M310.28 189.54v1.7M310.28 181.12v1.7M310.28 176.92v1.7M315.84 223.19v1.7M315.84 218.98v1.7M315.84 214.78v1.7M315.84 210.57v1.7M315.84 202.16v1.7M315.84 197.95v1.7M315.84 193.74v1.7M315.84 189.54v1.7M315.84 181.12v1.7M315.84 176.92v1.7M321.4 223.19v1.7M321.4 218.98v1.7M321.4 214.78v1.7M321.4 210.57v1.7M321.4 202.16v1.7M321.4 197.95v1.7M321.4 193.74v1.7M321.4 189.54v1.7M321.4 181.12v1.7M321.4 176.92v1.7M326.96 223.19v1.7M326.96 218.98v1.7M326.96 214.78v1.7M326.96 210.57v1.7M326.96 202.16v1.7M326.96 197.95v1.7M326.96 193.74v1.7M326.96 189.54v1.7M326.96 181.12v1.7M326.96 176.92v1.7M332.51 223.19v1.7M332.51 218.98v1.7M332.51 214.78v1.7M332.51 210.57v1.7M332.51 202.16v1.7M332.51 197.95v1.7M332.51 193.74v1.7M332.51 189.54v1.7M332.51 181.12v1.7M332.51 176.92v1.7M338.07 223.19v1.7M338.07 218.98v1.7M338.07 214.78v1.7M338.07 210.57v1.7M338.07 202.16v1.7M338.07 197.95v1.7M338.07 193.74v1.7M338.07 189.54v1.7M338.07 181.12v1.7M338.07 176.92v1.7M343.63 223.19v1.7M343.63 218.98v1.7M343.63 214.78v1.7M343.63 210.57v1.7M343.63 202.16v1.7M343.63 197.95v1.7M343.63 193.74v1.7M343.63 189.54v1.7M343.63 181.12v1.7M343.63 176.92v1.7M349.19 223.19v1.7M349.19 218.98v1.7M349.19 214.78v1.7M349.19 210.57v1.7M349.19 202.16v1.7M349.19 197.95v1.7M349.19 193.74v1.7M349.19 189.54v1.7M349.19 181.12v1.7M349.19 176.92v1.7" stroke="#bababa" stroke-width="1.1" fill="none"/><path d="M189.1 172.3V231.4M230.7 172.3V231.4M272.3 172.3V231.4M313.9 172.3V231.4M147.5 228.25H355.5M147.5 207.21H355.5M147.5 186.18H355.5" stroke="#dedede" stroke-width="1.6" fill="none"/><path d="M147.5 231.4v-3.4M147.5 172.3v3.4M189.1 231.4v-3.4M189.1 172.3v3.4M230.7 231.4v-3.4M230.7 172.3v3.4M272.3 231.4v-3.4M272.3 172.3v3.4M313.9 231.4v-3.4M313.9 172.3v3.4M355.5 231.4v-3.4M355.5 172.3v3.4M147.5 228.25h3.4M355.5 228.25h-3.4M147.5 207.21h3.4M355.5 207.21h-3.4M147.5 186.18h3.4M355.5 186.18h-3.4" stroke="#262626" stroke-width="1.7" fill="none"/><rect x="147.5" y="172.3" width="208" height="59.1" fill="none" stroke="#262626" stroke-width="2"/><text class="t" x="138.4" y="235.3" text-anchor="end" textLength="32.1" lengthAdjust="spacingAndGlyphs">250</text><text class="t" x="138.4" y="214.3" text-anchor="end" textLength="32.1" lengthAdjust="spacingAndGlyphs">260</text><text class="t" x="138.4" y="193.1" text-anchor="end" textLength="32.1" lengthAdjust="spacingAndGlyphs">270</text><text class="l" transform="translate(85.8 201.6) rotate(-90)" text-anchor="middle" textLength="88.7" lengthAdjust="spacingAndGlyphs">AIR<tspan dy="9.5" font-size="17.36">T</tspan><tspan dy="-9.5">EMP</tspan></text><g class="m"><circle cx="157.6" cy="230.23" r="3.95"/><circle cx="158.9" cy="230.34" r="3.95"/><circle cx="160.2" cy="230.4" r="3.95"/><circle cx="161.5" cy="231.42" r="3.95"/><circle cx="162.8" cy="231.42" r="3.95"/><circle cx="164.1" cy="230.77" r="3.95"/><circle cx="165.4" cy="229.69" r="3.95"/><circle cx="166.7" cy="227.72" r="3.95"/><circle cx="168" cy="225.94" r="3.95"/><circle cx="169.3" cy="224.19" r="3.95"/><circle cx="170.6" cy="222.71" r="3.95"/><circle cx="171.9" cy="220.88" r="3.95"/><circle cx="173.2" cy="219.19" r="3.95"/><circle cx="174.5" cy="218.07" r="3.95"/><circle cx="175.8" cy="217.26" r="3.95"/><circle cx="177.1" cy="216.1" r="3.95"/><circle cx="178.4" cy="214.84" r="3.95"/><circle cx="179.7" cy="213.26" r="3.95"/><circle cx="181" cy="211.18" r="3.95"/><circle cx="182.3" cy="209.9" r="3.95"/><circle cx="183.6" cy="209.03" r="3.95"/><circle cx="184.9" cy="208.25" r="3.95"/><circle cx="186.2" cy="207.5" r="3.95"/><circle cx="187.5" cy="206.14" r="3.95"/><circle cx="188.8" cy="204.2" r="3.95"/><circle cx="190.1" cy="203.09" r="3.95"/><circle cx="191.4" cy="201.44" r="3.95"/><circle cx="192.7" cy="199.77" r="3.95"/><circle cx="194" cy="198.24" r="3.95"/><circle cx="195.3" cy="197.44" r="3.95"/><circle cx="196.6" cy="197.06" r="3.95"/><circle cx="197.9" cy="196.2" r="3.95"/><circle cx="199.2" cy="195.89" r="3.95"/><circle cx="200.5" cy="195.11" r="3.95"/><circle cx="201.8" cy="194.57" r="3.95"/><circle cx="203.1" cy="194.54" r="3.95"/><circle cx="204.4" cy="194.37" r="3.95"/><circle cx="205.7" cy="193.42" r="3.95"/><circle cx="207" cy="193.36" r="3.95"/><circle cx="208.3" cy="192.63" r="3.95"/><circle cx="209.6" cy="192.36" r="3.95"/><circle cx="210.9" cy="191.69" r="3.95"/><circle cx="212.2" cy="190.53" r="3.95"/><circle cx="213.5" cy="190.85" r="3.95"/><circle cx="214.8" cy="190.53" r="3.95"/><circle cx="216.1" cy="189.9" r="3.95"/><circle cx="217.4" cy="190.24" r="3.95"/><circle cx="218.7" cy="190.04" r="3.95"/><circle cx="220" cy="190.87" r="3.95"/><circle cx="221.3" cy="190.85" r="3.95"/><circle cx="222.6" cy="191.46" r="3.95"/><circle cx="223.9" cy="191.76" r="3.95"/><circle cx="225.2" cy="192.04" r="3.95"/><circle cx="226.5" cy="192.5" r="3.95"/><circle cx="227.8" cy="192.73" r="3.95"/><circle cx="229.1" cy="192.89" r="3.95"/><circle cx="230.4" cy="194.01" r="3.95"/><circle cx="231.7" cy="194.07" r="3.95"/><circle cx="233" cy="194.84" r="3.95"/><circle cx="234.3" cy="196.49" r="3.95"/><circle cx="235.6" cy="196.77" r="3.95"/><circle cx="236.9" cy="197.83" r="3.95"/><circle cx="238.2" cy="198.3" r="3.95"/><circle cx="239.5" cy="199.08" r="3.95"/><circle cx="240.8" cy="198.38" r="3.95"/><circle cx="242.1" cy="198.19" r="3.95"/><circle cx="243.4" cy="198.57" r="3.95"/><circle cx="244.7" cy="197.42" r="3.95"/><circle cx="246" cy="197.71" r="3.95"/><circle cx="247.3" cy="196.07" r="3.95"/><circle cx="248.6" cy="194.12" r="3.95"/><circle cx="249.9" cy="191.86" r="3.95"/><circle cx="251.2" cy="187.64" r="3.95"/><circle cx="252.5" cy="183.95" r="3.95"/><circle cx="253.8" cy="178.99" r="3.95"/><circle cx="255.1" cy="175.9" r="3.95"/><circle cx="256.4" cy="173.94" r="3.95"/><circle cx="257.7" cy="172.44" r="3.95"/><circle cx="259" cy="172.12" r="3.95"/><circle cx="260.3" cy="173.94" r="3.95"/><circle cx="261.6" cy="175.44" r="3.95"/><circle cx="262.9" cy="176.31" r="3.95"/><circle cx="264.2" cy="178.32" r="3.95"/><circle cx="265.5" cy="179.19" r="3.95"/><circle cx="266.8" cy="179.76" r="3.95"/><circle cx="268.1" cy="179.47" r="3.95"/><circle cx="269.4" cy="178.45" r="3.95"/><circle cx="270.7" cy="177.19" r="3.95"/><circle cx="272" cy="176.22" r="3.95"/><circle cx="273.3" cy="175.44" r="3.95"/><circle cx="274.6" cy="174.25" r="3.95"/><circle cx="275.9" cy="173.38" r="3.95"/><circle cx="277.2" cy="172.99" r="3.95"/><circle cx="278.5" cy="173.2" r="3.95"/><circle cx="279.8" cy="173.51" r="3.95"/><circle cx="281.1" cy="173.43" r="3.95"/><circle cx="282.4" cy="174.15" r="3.95"/><circle cx="283.7" cy="175.01" r="3.95"/><circle cx="285" cy="174.83" r="3.95"/><circle cx="286.3" cy="175.55" r="3.95"/><circle cx="287.6" cy="175.35" r="3.95"/><circle cx="288.9" cy="176.31" r="3.95"/><circle cx="290.2" cy="176.85" r="3.95"/><circle cx="291.5" cy="177.24" r="3.95"/><circle cx="292.8" cy="177.51" r="3.95"/><circle cx="294.1" cy="177.43" r="3.95"/><circle cx="295.4" cy="177.54" r="3.95"/><circle cx="296.7" cy="177.74" r="3.95"/><circle cx="298" cy="176.94" r="3.95"/><circle cx="299.3" cy="176.84" r="3.95"/><circle cx="300.6" cy="177.44" r="3.95"/><circle cx="301.9" cy="177.56" r="3.95"/><circle cx="303.2" cy="177.11" r="3.95"/><circle cx="304.5" cy="176.98" r="3.95"/><circle cx="305.8" cy="177.21" r="3.95"/><circle cx="307.1" cy="176.63" r="3.95"/><circle cx="308.4" cy="176.66" r="3.95"/><circle cx="309.7" cy="176.54" r="3.95"/><circle cx="311" cy="176.91" r="3.95"/><circle cx="312.3" cy="176.76" r="3.95"/><circle cx="313.6" cy="176.79" r="3.95"/><circle cx="314.9" cy="177.36" r="3.95"/><circle cx="316.2" cy="177.74" r="3.95"/><circle cx="317.5" cy="177.2" r="3.95"/><circle cx="318.8" cy="177.73" r="3.95"/><circle cx="320.1" cy="177.65" r="3.95"/><circle cx="321.4" cy="178.52" r="3.95"/><circle cx="322.7" cy="178.68" r="3.95"/><circle cx="324" cy="178.8" r="3.95"/></g></g>
<g><path d="M492.1 226.6v1.7M492.1 222.66v1.7M492.1 218.71v1.7M492.1 214.76v1.7M492.1 206.87v1.7M492.1 202.92v1.7M492.1 198.98v1.7M492.1 195.03v1.7M492.1 187.14v1.7M492.1 183.19v1.7M492.1 179.24v1.7M492.1 175.3v1.7M497.66 226.6v1.7M497.66 222.66v1.7M497.66 218.71v1.7M497.66 214.76v1.7M497.66 206.87v1.7M497.66 202.92v1.7M497.66 198.98v1.7M497.66 195.03v1.7M497.66 187.14v1.7M497.66 183.19v1.7M497.66 179.24v1.7M497.66 175.3v1.7M503.22 226.6v1.7M503.22 222.66v1.7M503.22 218.71v1.7M503.22 214.76v1.7M503.22 206.87v1.7M503.22 202.92v1.7M503.22 198.98v1.7M503.22 195.03v1.7M503.22 187.14v1.7M503.22 183.19v1.7M503.22 179.24v1.7M503.22 175.3v1.7M508.77 226.6v1.7M508.77 222.66v1.7M508.77 218.71v1.7M508.77 214.76v1.7M508.77 206.87v1.7M508.77 202.92v1.7M508.77 198.98v1.7M508.77 195.03v1.7M508.77 187.14v1.7M508.77 183.19v1.7M508.77 179.24v1.7M508.77 175.3v1.7M514.33 226.6v1.7M514.33 222.66v1.7M514.33 218.71v1.7M514.33 214.76v1.7M514.33 206.87v1.7M514.33 202.92v1.7M514.33 198.98v1.7M514.33 195.03v1.7M514.33 187.14v1.7M514.33 183.19v1.7M514.33 179.24v1.7M514.33 175.3v1.7M519.89 226.6v1.7M519.89 222.66v1.7M519.89 218.71v1.7M519.89 214.76v1.7M519.89 206.87v1.7M519.89 202.92v1.7M519.89 198.98v1.7M519.89 195.03v1.7M519.89 187.14v1.7M519.89 183.19v1.7M519.89 179.24v1.7M519.89 175.3v1.7M525.45 226.6v1.7M525.45 222.66v1.7M525.45 218.71v1.7M525.45 214.76v1.7M525.45 206.87v1.7M525.45 202.92v1.7M525.45 198.98v1.7M525.45 195.03v1.7M525.45 187.14v1.7M525.45 183.19v1.7M525.45 179.24v1.7M525.45 175.3v1.7M531.01 226.6v1.7M531.01 222.66v1.7M531.01 218.71v1.7M531.01 214.76v1.7M531.01 206.87v1.7M531.01 202.92v1.7M531.01 198.98v1.7M531.01 195.03v1.7M531.01 187.14v1.7M531.01 183.19v1.7M531.01 179.24v1.7M531.01 175.3v1.7M536.56 226.6v1.7M536.56 222.66v1.7M536.56 218.71v1.7M536.56 214.76v1.7M536.56 206.87v1.7M536.56 202.92v1.7M536.56 198.98v1.7M536.56 195.03v1.7M536.56 187.14v1.7M536.56 183.19v1.7M536.56 179.24v1.7M536.56 175.3v1.7M542.12 226.6v1.7M542.12 222.66v1.7M542.12 218.71v1.7M542.12 214.76v1.7M542.12 206.87v1.7M542.12 202.92v1.7M542.12 198.98v1.7M542.12 195.03v1.7M542.12 187.14v1.7M542.12 183.19v1.7M542.12 179.24v1.7M542.12 175.3v1.7M547.68 226.6v1.7M547.68 222.66v1.7M547.68 218.71v1.7M547.68 214.76v1.7M547.68 206.87v1.7M547.68 202.92v1.7M547.68 198.98v1.7M547.68 195.03v1.7M547.68 187.14v1.7M547.68 183.19v1.7M547.68 179.24v1.7M547.68 175.3v1.7M553.24 226.6v1.7M553.24 222.66v1.7M553.24 218.71v1.7M553.24 214.76v1.7M553.24 206.87v1.7M553.24 202.92v1.7M553.24 198.98v1.7M553.24 195.03v1.7M553.24 187.14v1.7M553.24 183.19v1.7M553.24 179.24v1.7M553.24 175.3v1.7M558.8 226.6v1.7M558.8 222.66v1.7M558.8 218.71v1.7M558.8 214.76v1.7M558.8 206.87v1.7M558.8 202.92v1.7M558.8 198.98v1.7M558.8 195.03v1.7M558.8 187.14v1.7M558.8 183.19v1.7M558.8 179.24v1.7M558.8 175.3v1.7M564.35 226.6v1.7M564.35 222.66v1.7M564.35 218.71v1.7M564.35 214.76v1.7M564.35 206.87v1.7M564.35 202.92v1.7M564.35 198.98v1.7M564.35 195.03v1.7M564.35 187.14v1.7M564.35 183.19v1.7M564.35 179.24v1.7M564.35 175.3v1.7M569.91 226.6v1.7M569.91 222.66v1.7M569.91 218.71v1.7M569.91 214.76v1.7M569.91 206.87v1.7M569.91 202.92v1.7M569.91 198.98v1.7M569.91 195.03v1.7M569.91 187.14v1.7M569.91 183.19v1.7M569.91 179.24v1.7M569.91 175.3v1.7M575.47 226.6v1.7M575.47 222.66v1.7M575.47 218.71v1.7M575.47 214.76v1.7M575.47 206.87v1.7M575.47 202.92v1.7M575.47 198.98v1.7M575.47 195.03v1.7M575.47 187.14v1.7M575.47 183.19v1.7M575.47 179.24v1.7M575.47 175.3v1.7M581.03 226.6v1.7M581.03 222.66v1.7M581.03 218.71v1.7M581.03 214.76v1.7M581.03 206.87v1.7M581.03 202.92v1.7M581.03 198.98v1.7M581.03 195.03v1.7M581.03 187.14v1.7M581.03 183.19v1.7M581.03 179.24v1.7M581.03 175.3v1.7M586.59 226.6v1.7M586.59 222.66v1.7M586.59 218.71v1.7M586.59 214.76v1.7M586.59 206.87v1.7M586.59 202.92v1.7M586.59 198.98v1.7M586.59 195.03v1.7M586.59 187.14v1.7M586.59 183.19v1.7M586.59 179.24v1.7M586.59 175.3v1.7M592.14 226.6v1.7M592.14 222.66v1.7M592.14 218.71v1.7M592.14 214.76v1.7M592.14 206.87v1.7M592.14 202.92v1.7M592.14 198.98v1.7M592.14 195.03v1.7M592.14 187.14v1.7M592.14 183.19v1.7M592.14 179.24v1.7M592.14 175.3v1.7M597.7 226.6v1.7M597.7 222.66v1.7M597.7 218.71v1.7M597.7 214.76v1.7M597.7 206.87v1.7M597.7 202.92v1.7M597.7 198.98v1.7M597.7 195.03v1.7M597.7 187.14v1.7M597.7 183.19v1.7M597.7 179.24v1.7M597.7 175.3v1.7M603.26 226.6v1.7M603.26 222.66v1.7M603.26 218.71v1.7M603.26 214.76v1.7M603.26 206.87v1.7M603.26 202.92v1.7M603.26 198.98v1.7M603.26 195.03v1.7M603.26 187.14v1.7M603.26 183.19v1.7M603.26 179.24v1.7M603.26 175.3v1.7M608.82 226.6v1.7M608.82 222.66v1.7M608.82 218.71v1.7M608.82 214.76v1.7M608.82 206.87v1.7M608.82 202.92v1.7M608.82 198.98v1.7M608.82 195.03v1.7M608.82 187.14v1.7M608.82 183.19v1.7M608.82 179.24v1.7M608.82 175.3v1.7M614.38 226.6v1.7M614.38 222.66v1.7M614.38 218.71v1.7M614.38 214.76v1.7M614.38 206.87v1.7M614.38 202.92v1.7M614.38 198.98v1.7M614.38 195.03v1.7M614.38 187.14v1.7M614.38 183.19v1.7M614.38 179.24v1.7M614.38 175.3v1.7M619.93 226.6v1.7M619.93 222.66v1.7M619.93 218.71v1.7M619.93 214.76v1.7M619.93 206.87v1.7M619.93 202.92v1.7M619.93 198.98v1.7M619.93 195.03v1.7M619.93 187.14v1.7M619.93 183.19v1.7M619.93 179.24v1.7M619.93 175.3v1.7M625.49 226.6v1.7M625.49 222.66v1.7M625.49 218.71v1.7M625.49 214.76v1.7M625.49 206.87v1.7M625.49 202.92v1.7M625.49 198.98v1.7M625.49 195.03v1.7M625.49 187.14v1.7M625.49 183.19v1.7M625.49 179.24v1.7M625.49 175.3v1.7M631.05 226.6v1.7M631.05 222.66v1.7M631.05 218.71v1.7M631.05 214.76v1.7M631.05 206.87v1.7M631.05 202.92v1.7M631.05 198.98v1.7M631.05 195.03v1.7M631.05 187.14v1.7M631.05 183.19v1.7M631.05 179.24v1.7M631.05 175.3v1.7M636.61 226.6v1.7M636.61 222.66v1.7M636.61 218.71v1.7M636.61 214.76v1.7M636.61 206.87v1.7M636.61 202.92v1.7M636.61 198.98v1.7M636.61 195.03v1.7M636.61 187.14v1.7M636.61 183.19v1.7M636.61 179.24v1.7M636.61 175.3v1.7M642.17 226.6v1.7M642.17 222.66v1.7M642.17 218.71v1.7M642.17 214.76v1.7M642.17 206.87v1.7M642.17 202.92v1.7M642.17 198.98v1.7M642.17 195.03v1.7M642.17 187.14v1.7M642.17 183.19v1.7M642.17 179.24v1.7M642.17 175.3v1.7M647.72 226.6v1.7M647.72 222.66v1.7M647.72 218.71v1.7M647.72 214.76v1.7M647.72 206.87v1.7M647.72 202.92v1.7M647.72 198.98v1.7M647.72 195.03v1.7M647.72 187.14v1.7M647.72 183.19v1.7M647.72 179.24v1.7M647.72 175.3v1.7M653.28 226.6v1.7M653.28 222.66v1.7M653.28 218.71v1.7M653.28 214.76v1.7M653.28 206.87v1.7M653.28 202.92v1.7M653.28 198.98v1.7M653.28 195.03v1.7M653.28 187.14v1.7M653.28 183.19v1.7M653.28 179.24v1.7M653.28 175.3v1.7M658.84 226.6v1.7M658.84 222.66v1.7M658.84 218.71v1.7M658.84 214.76v1.7M658.84 206.87v1.7M658.84 202.92v1.7M658.84 198.98v1.7M658.84 195.03v1.7M658.84 187.14v1.7M658.84 183.19v1.7M658.84 179.24v1.7M658.84 175.3v1.7M664.4 226.6v1.7M664.4 222.66v1.7M664.4 218.71v1.7M664.4 214.76v1.7M664.4 206.87v1.7M664.4 202.92v1.7M664.4 198.98v1.7M664.4 195.03v1.7M664.4 187.14v1.7M664.4 183.19v1.7M664.4 179.24v1.7M664.4 175.3v1.7M669.96 226.6v1.7M669.96 222.66v1.7M669.96 218.71v1.7M669.96 214.76v1.7M669.96 206.87v1.7M669.96 202.92v1.7M669.96 198.98v1.7M669.96 195.03v1.7M669.96 187.14v1.7M669.96 183.19v1.7M669.96 179.24v1.7M669.96 175.3v1.7M675.51 226.6v1.7M675.51 222.66v1.7M675.51 218.71v1.7M675.51 214.76v1.7M675.51 206.87v1.7M675.51 202.92v1.7M675.51 198.98v1.7M675.51 195.03v1.7M675.51 187.14v1.7M675.51 183.19v1.7M675.51 179.24v1.7M675.51 175.3v1.7M681.07 226.6v1.7M681.07 222.66v1.7M681.07 218.71v1.7M681.07 214.76v1.7M681.07 206.87v1.7M681.07 202.92v1.7M681.07 198.98v1.7M681.07 195.03v1.7M681.07 187.14v1.7M681.07 183.19v1.7M681.07 179.24v1.7M681.07 175.3v1.7M686.63 226.6v1.7M686.63 222.66v1.7M686.63 218.71v1.7M686.63 214.76v1.7M686.63 206.87v1.7M686.63 202.92v1.7M686.63 198.98v1.7M686.63 195.03v1.7M686.63 187.14v1.7M686.63 183.19v1.7M686.63 179.24v1.7M686.63 175.3v1.7M692.19 226.6v1.7M692.19 222.66v1.7M692.19 218.71v1.7M692.19 214.76v1.7M692.19 206.87v1.7M692.19 202.92v1.7M692.19 198.98v1.7M692.19 195.03v1.7M692.19 187.14v1.7M692.19 183.19v1.7M692.19 179.24v1.7M692.19 175.3v1.7" stroke="#bababa" stroke-width="1.1" fill="none"/><path d="M532.1 172.3V231.4M573.7 172.3V231.4M615.3 172.3V231.4M656.9 172.3V231.4M490.5 211.67H698.5M490.5 191.93H698.5" stroke="#dedede" stroke-width="1.6" fill="none"/><path d="M490.5 231.4v-3.4M490.5 172.3v3.4M532.1 231.4v-3.4M532.1 172.3v3.4M573.7 231.4v-3.4M573.7 172.3v3.4M615.3 231.4v-3.4M615.3 172.3v3.4M656.9 231.4v-3.4M656.9 172.3v3.4M698.5 231.4v-3.4M698.5 172.3v3.4M490.5 231.4h3.4M698.5 231.4h-3.4M490.5 211.67h3.4M698.5 211.67h-3.4M490.5 191.93h3.4M698.5 191.93h-3.4" stroke="#262626" stroke-width="1.7" fill="none"/><rect x="490.5" y="172.3" width="208" height="59.1" fill="none" stroke="#262626" stroke-width="2"/><text class="t" x="482.2" y="238.8" text-anchor="end" textLength="10.37" lengthAdjust="spacingAndGlyphs">0</text><text class="t" x="482.2" y="218.8" text-anchor="end" textLength="25.51" lengthAdjust="spacingAndGlyphs">0.1</text><text class="t" x="482.2" y="199.3" text-anchor="end" textLength="25.51" lengthAdjust="spacingAndGlyphs">0.2</text><text class="l" transform="translate(445.7 201.85) rotate(-90)" text-anchor="middle" textLength="95.8" lengthAdjust="spacingAndGlyphs">RAINFALL</text><g class="m"><circle cx="510.95" cy="172.3" r="3.95"/><circle cx="513.15" cy="172.3" r="3.95"/><circle cx="515.35" cy="172.3" r="3.95"/><circle cx="539.06" cy="172.3" r="3.95"/><circle cx="507.9" cy="192" r="3.95"/><circle cx="509.1" cy="192" r="3.95"/><circle cx="519.9" cy="192" r="3.95"/><circle cx="525.2" cy="192" r="3.95"/><circle cx="527.6" cy="192" r="3.95"/><circle cx="530.1" cy="192" r="3.95"/><circle cx="536.9" cy="192" r="3.95"/><circle cx="539.1" cy="192" r="3.95"/><circle cx="541.3" cy="192" r="3.95"/><circle cx="559.9" cy="192" r="3.95"/><circle cx="561.3" cy="192" r="3.95"/><circle cx="505.8" cy="211.6" r="3.95"/><circle cx="523.5" cy="211.6" r="3.95"/><circle cx="526.7" cy="211.6" r="3.95"/><circle cx="542.1" cy="211.6" r="3.95"/><circle cx="554.3" cy="211.6" r="3.95"/><circle cx="563.3" cy="211.6" r="3.95"/><circle cx="500.8" cy="231.4" r="3.95"/><circle cx="502.4" cy="231.4" r="3.95"/><circle cx="504" cy="231.4" r="3.95"/><circle cx="516.5" cy="231.4" r="3.95"/><circle cx="518.95" cy="231.4" r="3.95"/><circle cx="521.4" cy="231.4" r="3.95"/><circle cx="531.9" cy="231.4" r="3.95"/><circle cx="533.4" cy="231.4" r="3.95"/><circle cx="534.9" cy="231.4" r="3.95"/><circle cx="544.8" cy="231.4" r="3.95"/><circle cx="546.1" cy="231.4" r="3.95"/><circle cx="547.4" cy="231.4" r="3.95"/><circle cx="548.7" cy="231.4" r="3.95"/><circle cx="550" cy="231.4" r="3.95"/><circle cx="551.3" cy="231.4" r="3.95"/><circle cx="552.6" cy="231.4" r="3.95"/><circle cx="553.9" cy="231.4" r="3.95"/><circle cx="555.2" cy="231.4" r="3.95"/><circle cx="556.5" cy="231.4" r="3.95"/><circle cx="566.6" cy="231.4" r="3.95"/><circle cx="567.5" cy="231.4" r="3.95"/><circle cx="568.4" cy="231.4" r="3.95"/><circle cx="569.3" cy="231.4" r="3.95"/><circle cx="570.2" cy="231.4" r="3.95"/><circle cx="571.1" cy="231.4" r="3.95"/><circle cx="572" cy="231.4" r="3.95"/><circle cx="572.9" cy="231.4" r="3.95"/><circle cx="573.8" cy="231.4" r="3.95"/><circle cx="574.7" cy="231.4" r="3.95"/><circle cx="575.6" cy="231.4" r="3.95"/><circle cx="576.5" cy="231.4" r="3.95"/><circle cx="577.4" cy="231.4" r="3.95"/><circle cx="578.3" cy="231.4" r="3.95"/><circle cx="579.2" cy="231.4" r="3.95"/><circle cx="580.1" cy="231.4" r="3.95"/><circle cx="581" cy="231.4" r="3.95"/><circle cx="581.9" cy="231.4" r="3.95"/><circle cx="582.8" cy="231.4" r="3.95"/><circle cx="583.7" cy="231.4" r="3.95"/><circle cx="584.6" cy="231.4" r="3.95"/><circle cx="585.5" cy="231.4" r="3.95"/><circle cx="586.4" cy="231.4" r="3.95"/><circle cx="587.3" cy="231.4" r="3.95"/><circle cx="588.2" cy="231.4" r="3.95"/><circle cx="589.1" cy="231.4" r="3.95"/><circle cx="590" cy="231.4" r="3.95"/><circle cx="590.9" cy="231.4" r="3.95"/><circle cx="591.8" cy="231.4" r="3.95"/><circle cx="592.7" cy="231.4" r="3.95"/><circle cx="593.6" cy="231.4" r="3.95"/><circle cx="594.5" cy="231.4" r="3.95"/><circle cx="595.4" cy="231.4" r="3.95"/><circle cx="596.3" cy="231.4" r="3.95"/><circle cx="597.2" cy="231.4" r="3.95"/><circle cx="598.1" cy="231.4" r="3.95"/><circle cx="599" cy="231.4" r="3.95"/><circle cx="599.9" cy="231.4" r="3.95"/><circle cx="600.8" cy="231.4" r="3.95"/><circle cx="601.7" cy="231.4" r="3.95"/><circle cx="602.6" cy="231.4" r="3.95"/><circle cx="603.5" cy="231.4" r="3.95"/><circle cx="604.4" cy="231.4" r="3.95"/><circle cx="605.3" cy="231.4" r="3.95"/><circle cx="606.2" cy="231.4" r="3.95"/><circle cx="607.1" cy="231.4" r="3.95"/><circle cx="608" cy="231.4" r="3.95"/><circle cx="608.9" cy="231.4" r="3.95"/><circle cx="609.8" cy="231.4" r="3.95"/><circle cx="610.7" cy="231.4" r="3.95"/><circle cx="611.6" cy="231.4" r="3.95"/><circle cx="612.5" cy="231.4" r="3.95"/><circle cx="613.4" cy="231.4" r="3.95"/><circle cx="614.3" cy="231.4" r="3.95"/><circle cx="615.2" cy="231.4" r="3.95"/><circle cx="616.1" cy="231.4" r="3.95"/><circle cx="617" cy="231.4" r="3.95"/><circle cx="617.9" cy="231.4" r="3.95"/><circle cx="618.8" cy="231.4" r="3.95"/><circle cx="619.7" cy="231.4" r="3.95"/><circle cx="620.6" cy="231.4" r="3.95"/><circle cx="621.5" cy="231.4" r="3.95"/><circle cx="622.4" cy="231.4" r="3.95"/><circle cx="623.3" cy="231.4" r="3.95"/><circle cx="624.2" cy="231.4" r="3.95"/><circle cx="625.1" cy="231.4" r="3.95"/><circle cx="626" cy="231.4" r="3.95"/><circle cx="626.9" cy="231.4" r="3.95"/><circle cx="627.8" cy="231.4" r="3.95"/><circle cx="628.7" cy="231.4" r="3.95"/><circle cx="629.6" cy="231.4" r="3.95"/><circle cx="630.5" cy="231.4" r="3.95"/><circle cx="631.4" cy="231.4" r="3.95"/><circle cx="632.3" cy="231.4" r="3.95"/><circle cx="633.2" cy="231.4" r="3.95"/><circle cx="634.1" cy="231.4" r="3.95"/><circle cx="635" cy="231.4" r="3.95"/><circle cx="635.9" cy="231.4" r="3.95"/><circle cx="636.8" cy="231.4" r="3.95"/><circle cx="637.7" cy="231.4" r="3.95"/><circle cx="638.6" cy="231.4" r="3.95"/><circle cx="639.5" cy="231.4" r="3.95"/><circle cx="640.4" cy="231.4" r="3.95"/><circle cx="641.3" cy="231.4" r="3.95"/><circle cx="642.2" cy="231.4" r="3.95"/><circle cx="643.1" cy="231.4" r="3.95"/><circle cx="644" cy="231.4" r="3.95"/><circle cx="644.9" cy="231.4" r="3.95"/><circle cx="645.8" cy="231.4" r="3.95"/><circle cx="646.7" cy="231.4" r="3.95"/><circle cx="647.6" cy="231.4" r="3.95"/><circle cx="648.5" cy="231.4" r="3.95"/><circle cx="649.4" cy="231.4" r="3.95"/><circle cx="650.3" cy="231.4" r="3.95"/><circle cx="651.2" cy="231.4" r="3.95"/><circle cx="652.1" cy="231.4" r="3.95"/><circle cx="653" cy="231.4" r="3.95"/><circle cx="653.9" cy="231.4" r="3.95"/><circle cx="654.8" cy="231.4" r="3.95"/><circle cx="655.7" cy="231.4" r="3.95"/><circle cx="656.6" cy="231.4" r="3.95"/><circle cx="657.5" cy="231.4" r="3.95"/><circle cx="658.4" cy="231.4" r="3.95"/><circle cx="659.3" cy="231.4" r="3.95"/><circle cx="660.2" cy="231.4" r="3.95"/><circle cx="661.1" cy="231.4" r="3.95"/><circle cx="662" cy="231.4" r="3.95"/><circle cx="662.9" cy="231.4" r="3.95"/><circle cx="663.8" cy="231.4" r="3.95"/><circle cx="664.7" cy="231.4" r="3.95"/><circle cx="665.6" cy="231.4" r="3.95"/><circle cx="666.5" cy="231.4" r="3.95"/><circle cx="667.4" cy="231.4" r="3.95"/></g></g>
<g><path d="M149.1 353.54v1.7M149.1 347.93v1.7M149.1 342.31v1.7M149.1 336.7v1.7M149.1 325.48v1.7M149.1 319.87v1.7M149.1 314.26v1.7M149.1 308.64v1.7M154.66 353.54v1.7M154.66 347.93v1.7M154.66 342.31v1.7M154.66 336.7v1.7M154.66 325.48v1.7M154.66 319.87v1.7M154.66 314.26v1.7M154.66 308.64v1.7M160.22 353.54v1.7M160.22 347.93v1.7M160.22 342.31v1.7M160.22 336.7v1.7M160.22 325.48v1.7M160.22 319.87v1.7M160.22 314.26v1.7M160.22 308.64v1.7M165.77 353.54v1.7M165.77 347.93v1.7M165.77 342.31v1.7M165.77 336.7v1.7M165.77 325.48v1.7M165.77 319.87v1.7M165.77 314.26v1.7M165.77 308.64v1.7M171.33 353.54v1.7M171.33 347.93v1.7M171.33 342.31v1.7M171.33 336.7v1.7M171.33 325.48v1.7M171.33 319.87v1.7M171.33 314.26v1.7M171.33 308.64v1.7M176.89 353.54v1.7M176.89 347.93v1.7M176.89 342.31v1.7M176.89 336.7v1.7M176.89 325.48v1.7M176.89 319.87v1.7M176.89 314.26v1.7M176.89 308.64v1.7M182.45 353.54v1.7M182.45 347.93v1.7M182.45 342.31v1.7M182.45 336.7v1.7M182.45 325.48v1.7M182.45 319.87v1.7M182.45 314.26v1.7M182.45 308.64v1.7M188.01 353.54v1.7M188.01 347.93v1.7M188.01 342.31v1.7M188.01 336.7v1.7M188.01 325.48v1.7M188.01 319.87v1.7M188.01 314.26v1.7M188.01 308.64v1.7M193.56 353.54v1.7M193.56 347.93v1.7M193.56 342.31v1.7M193.56 336.7v1.7M193.56 325.48v1.7M193.56 319.87v1.7M193.56 314.26v1.7M193.56 308.64v1.7M199.12 353.54v1.7M199.12 347.93v1.7M199.12 342.31v1.7M199.12 336.7v1.7M199.12 325.48v1.7M199.12 319.87v1.7M199.12 314.26v1.7M199.12 308.64v1.7M204.68 353.54v1.7M204.68 347.93v1.7M204.68 342.31v1.7M204.68 336.7v1.7M204.68 325.48v1.7M204.68 319.87v1.7M204.68 314.26v1.7M204.68 308.64v1.7M210.24 353.54v1.7M210.24 347.93v1.7M210.24 342.31v1.7M210.24 336.7v1.7M210.24 325.48v1.7M210.24 319.87v1.7M210.24 314.26v1.7M210.24 308.64v1.7M215.8 353.54v1.7M215.8 347.93v1.7M215.8 342.31v1.7M215.8 336.7v1.7M215.8 325.48v1.7M215.8 319.87v1.7M215.8 314.26v1.7M215.8 308.64v1.7M221.35 353.54v1.7M221.35 347.93v1.7M221.35 342.31v1.7M221.35 336.7v1.7M221.35 325.48v1.7M221.35 319.87v1.7M221.35 314.26v1.7M221.35 308.64v1.7M226.91 353.54v1.7M226.91 347.93v1.7M226.91 342.31v1.7M226.91 336.7v1.7M226.91 325.48v1.7M226.91 319.87v1.7M226.91 314.26v1.7M226.91 308.64v1.7M232.47 353.54v1.7M232.47 347.93v1.7M232.47 342.31v1.7M232.47 336.7v1.7M232.47 325.48v1.7M232.47 319.87v1.7M232.47 314.26v1.7M232.47 308.64v1.7M238.03 353.54v1.7M238.03 347.93v1.7M238.03 342.31v1.7M238.03 336.7v1.7M238.03 325.48v1.7M238.03 319.87v1.7M238.03 314.26v1.7M238.03 308.64v1.7M243.59 353.54v1.7M243.59 347.93v1.7M243.59 342.31v1.7M243.59 336.7v1.7M243.59 325.48v1.7M243.59 319.87v1.7M243.59 314.26v1.7M243.59 308.64v1.7M249.14 353.54v1.7M249.14 347.93v1.7M249.14 342.31v1.7M249.14 336.7v1.7M249.14 325.48v1.7M249.14 319.87v1.7M249.14 314.26v1.7M249.14 308.64v1.7M254.7 353.54v1.7M254.7 347.93v1.7M254.7 342.31v1.7M254.7 336.7v1.7M254.7 325.48v1.7M254.7 319.87v1.7M254.7 314.26v1.7M254.7 308.64v1.7M260.26 353.54v1.7M260.26 347.93v1.7M260.26 342.31v1.7M260.26 336.7v1.7M260.26 325.48v1.7M260.26 319.87v1.7M260.26 314.26v1.7M260.26 308.64v1.7M265.82 353.54v1.7M265.82 347.93v1.7M265.82 342.31v1.7M265.82 336.7v1.7M265.82 325.48v1.7M265.82 319.87v1.7M265.82 314.26v1.7M265.82 308.64v1.7M271.38 353.54v1.7M271.38 347.93v1.7M271.38 342.31v1.7M271.38 336.7v1.7M271.38 325.48v1.7M271.38 319.87v1.7M271.38 314.26v1.7M271.38 308.64v1.7M276.93 353.54v1.7M276.93 347.93v1.7M276.93 342.31v1.7M276.93 336.7v1.7M276.93 325.48v1.7M276.93 319.87v1.7M276.93 314.26v1.7M276.93 308.64v1.7M282.49 353.54v1.7M282.49 347.93v1.7M282.49 342.31v1.7M282.49 336.7v1.7M282.49 325.48v1.7M282.49 319.87v1.7M282.49 314.26v1.7M282.49 308.64v1.7M288.05 353.54v1.7M288.05 347.93v1.7M288.05 342.31v1.7M288.05 336.7v1.7M288.05 325.48v1.7M288.05 319.87v1.7M288.05 314.26v1.7M288.05 308.64v1.7M293.61 353.54v1.7M293.61 347.93v1.7M293.61 342.31v1.7M293.61 336.7v1.7M293.61 325.48v1.7M293.61 319.87v1.7M293.61 314.26v1.7M293.61 308.64v1.7M299.17 353.54v1.7M299.17 347.93v1.7M299.17 342.31v1.7M299.17 336.7v1.7M299.17 325.48v1.7M299.17 319.87v1.7M299.17 314.26v1.7M299.17 308.64v1.7M304.72 353.54v1.7M304.72 347.93v1.7M304.72 342.31v1.7M304.72 336.7v1.7M304.72 325.48v1.7M304.72 319.87v1.7M304.72 314.26v1.7M304.72 308.64v1.7M310.28 353.54v1.7M310.28 347.93v1.7M310.28 342.31v1.7M310.28 336.7v1.7M310.28 325.48v1.7M310.28 319.87v1.7M310.28 314.26v1.7M310.28 308.64v1.7M315.84 353.54v1.7M315.84 347.93v1.7M315.84 342.31v1.7M315.84 336.7v1.7M315.84 325.48v1.7M315.84 319.87v1.7M315.84 314.26v1.7M315.84 308.64v1.7M321.4 353.54v1.7M321.4 347.93v1.7M321.4 342.31v1.7M321.4 336.7v1.7M321.4 325.48v1.7M321.4 319.87v1.7M321.4 314.26v1.7M321.4 308.64v1.7M326.96 353.54v1.7M326.96 347.93v1.7M326.96 342.31v1.7M326.96 336.7v1.7M326.96 325.48v1.7M326.96 319.87v1.7M326.96 314.26v1.7M326.96 308.64v1.7M332.51 353.54v1.7M332.51 347.93v1.7M332.51 342.31v1.7M332.51 336.7v1.7M332.51 325.48v1.7M332.51 319.87v1.7M332.51 314.26v1.7M332.51 308.64v1.7M338.07 353.54v1.7M338.07 347.93v1.7M338.07 342.31v1.7M338.07 336.7v1.7M338.07 325.48v1.7M338.07 319.87v1.7M338.07 314.26v1.7M338.07 308.64v1.7M343.63 353.54v1.7M343.63 347.93v1.7M343.63 342.31v1.7M343.63 336.7v1.7M343.63 325.48v1.7M343.63 319.87v1.7M343.63 314.26v1.7M343.63 308.64v1.7M349.19 353.54v1.7M349.19 347.93v1.7M349.19 342.31v1.7M349.19 336.7v1.7M349.19 325.48v1.7M349.19 319.87v1.7M349.19 314.26v1.7M349.19 308.64v1.7" stroke="#bababa" stroke-width="1.1" fill="none"/><path d="M189.1 299V360M230.7 299V360M272.3 299V360M313.9 299V360M147.5 331.94H355.5M147.5 303.88H355.5" stroke="#dedede" stroke-width="1.6" fill="none"/><path d="M147.5 360v-3.4M147.5 299v3.4M189.1 360v-3.4M189.1 299v3.4M230.7 360v-3.4M230.7 299v3.4M272.3 360v-3.4M272.3 299v3.4M313.9 360v-3.4M313.9 299v3.4M355.5 360v-3.4M355.5 299v3.4M147.5 360h3.4M355.5 360h-3.4M147.5 331.94h3.4M355.5 331.94h-3.4M147.5 303.88h3.4M355.5 303.88h-3.4" stroke="#262626" stroke-width="1.7" fill="none"/><rect x="147.5" y="299" width="208" height="61" fill="none" stroke="#262626" stroke-width="2"/><text class="t" x="138.4" y="365.5" text-anchor="end" textLength="10.37" lengthAdjust="spacingAndGlyphs">0</text><text class="t" x="138.4" y="338.7" text-anchor="end" textLength="42.97" lengthAdjust="spacingAndGlyphs">1000</text><text class="t" x="138.4" y="312" text-anchor="end" textLength="42.97" lengthAdjust="spacingAndGlyphs">2000</text><text class="l" transform="translate(84.8 329.5) rotate(-90)" text-anchor="middle" textLength="105.6" lengthAdjust="spacingAndGlyphs">MIXDEPTH</text><g class="m"><circle cx="157.9" cy="327.13" r="3.95"/><circle cx="159.65" cy="324.67" r="3.95"/><circle cx="161.4" cy="322.59" r="3.95"/><circle cx="163.15" cy="320.45" r="3.95"/><circle cx="164.9" cy="318.31" r="3.95"/><circle cx="166.65" cy="316.54" r="3.95"/><circle cx="168.4" cy="315.04" r="3.95"/><circle cx="170.15" cy="313.83" r="3.95"/><circle cx="171.9" cy="310.56" r="3.95"/><circle cx="173.65" cy="307.53" r="3.95"/><circle cx="175.4" cy="303.83" r="3.95"/><circle cx="177.15" cy="301.65" r="3.95"/><circle cx="178.9" cy="300.09" r="3.95"/><circle cx="180.65" cy="304.72" r="3.95"/><circle cx="182.4" cy="307.87" r="3.95"/><circle cx="184.15" cy="310.55" r="3.95"/><circle cx="185.9" cy="313.92" r="3.95"/><circle cx="186.9" cy="315.35" r="3.95"/><circle cx="188.2" cy="312.57" r="3.95"/><circle cx="189.5" cy="308.95" r="3.95"/><circle cx="190.8" cy="308.37" r="3.95"/><circle cx="192.1" cy="308.74" r="3.95"/><circle cx="193.4" cy="307.95" r="3.95"/><circle cx="194.7" cy="307.57" r="3.95"/><circle cx="196" cy="307.58" r="3.95"/><circle cx="197.3" cy="308.79" r="3.95"/><circle cx="198.6" cy="309.36" r="3.95"/><circle cx="199.9" cy="310.46" r="3.95"/><circle cx="201.2" cy="310.93" r="3.95"/><circle cx="202.5" cy="310.59" r="3.95"/><circle cx="203.8" cy="311.43" r="3.95"/><circle cx="205.1" cy="312.6" r="3.95"/><circle cx="206.4" cy="313.54" r="3.95"/><circle cx="207.7" cy="315.43" r="3.95"/><circle cx="209" cy="316.73" r="3.95"/><circle cx="210.3" cy="317.74" r="3.95"/><circle cx="211.6" cy="317.63" r="3.95"/><circle cx="212.9" cy="319.52" r="3.95"/><circle cx="214.2" cy="319.55" r="3.95"/><circle cx="215.5" cy="320.64" r="3.95"/><circle cx="216.8" cy="321.76" r="3.95"/><circle cx="218.1" cy="321.31" r="3.95"/><circle cx="219.4" cy="321.91" r="3.95"/><circle cx="220.7" cy="323.68" r="3.95"/><circle cx="171.4" cy="317.7" r="3.95"/><circle cx="223.6" cy="332.8" r="3.95"/><circle cx="225.3" cy="356.2" r="3.95"/><circle cx="226.6" cy="356" r="3.95"/><circle cx="227.9" cy="355.8" r="3.95"/><circle cx="229.1" cy="355.6" r="3.95"/><circle cx="230.5" cy="355.4" r="3.95"/><circle cx="231.8" cy="355.2" r="3.95"/><circle cx="233" cy="355" r="3.95"/><circle cx="234.4" cy="354.8" r="3.95"/><circle cx="235.7" cy="354.5" r="3.95"/><circle cx="236.9" cy="354.3" r="3.95"/><circle cx="238.2" cy="354" r="3.95"/><circle cx="239.5" cy="353.4" r="3.95"/><circle cx="240.7" cy="352.8" r="3.95"/><circle cx="242.7" cy="344.3" r="3.95"/><circle cx="244.3" cy="333.7" r="3.95"/><circle cx="245.6" cy="324.1" r="3.95"/><circle cx="247.2" cy="320.9" r="3.95"/><circle cx="248.2" cy="317.7" r="3.95"/><circle cx="249.5" cy="313.2" r="3.95"/><circle cx="251.7" cy="307.4" r="3.95"/><circle cx="253" cy="308.2" r="3.95"/><circle cx="254.3" cy="309.2" r="3.95"/><circle cx="255.6" cy="310.2" r="3.95"/><circle cx="256.8" cy="311.2" r="3.95"/><circle cx="258.7" cy="327.3" r="3.95"/><circle cx="260" cy="343" r="3.95"/><circle cx="262" cy="358.38" r="3.95"/><circle cx="263.4" cy="357.69" r="3.95"/><circle cx="264.8" cy="357.31" r="3.95"/><circle cx="266.2" cy="356.67" r="3.95"/><circle cx="267.6" cy="354.48" r="3.95"/><circle cx="269" cy="354.27" r="3.95"/><circle cx="270.4" cy="353.61" r="3.95"/><circle cx="271.8" cy="352.85" r="3.95"/><circle cx="273.2" cy="351.42" r="3.95"/><circle cx="274.6" cy="351.29" r="3.95"/><circle cx="276" cy="351.15" r="3.95"/><circle cx="277.4" cy="349.38" r="3.95"/><circle cx="278.8" cy="349.28" r="3.95"/><circle cx="280.2" cy="348.03" r="3.95"/><circle cx="281.6" cy="347.94" r="3.95"/><circle cx="283" cy="348.18" r="3.95"/><circle cx="284.4" cy="346.51" r="3.95"/><circle cx="285.8" cy="347.95" r="3.95"/><circle cx="287.2" cy="348.33" r="3.95"/><circle cx="288.6" cy="347.05" r="3.95"/><circle cx="290" cy="349.08" r="3.95"/><circle cx="291.4" cy="348.71" r="3.95"/><circle cx="292.8" cy="350.28" r="3.95"/><circle cx="294.2" cy="351.01" r="3.95"/><circle cx="295.6" cy="350.8" r="3.95"/><circle cx="297" cy="352.09" r="3.95"/><circle cx="298.4" cy="352.56" r="3.95"/><circle cx="299.8" cy="353.39" r="3.95"/><circle cx="301.2" cy="352.53" r="3.95"/><circle cx="302.6" cy="353.51" r="3.95"/><circle cx="304" cy="353.92" r="3.95"/><circle cx="305.4" cy="353.35" r="3.95"/><circle cx="306.8" cy="353.07" r="3.95"/><circle cx="308.2" cy="352.75" r="3.95"/><circle cx="309.6" cy="354.08" r="3.95"/><circle cx="311" cy="354.37" r="3.95"/><circle cx="312.4" cy="355.67" r="3.95"/><circle cx="313.8" cy="356.08" r="3.95"/><circle cx="315.2" cy="356.22" r="3.95"/><circle cx="316.6" cy="355.81" r="3.95"/><circle cx="318" cy="357.09" r="3.95"/><circle cx="319.4" cy="356.83" r="3.95"/><circle cx="320.8" cy="355.46" r="3.95"/><circle cx="322.2" cy="356.41" r="3.95"/><circle cx="323.6" cy="353.71" r="3.95"/><circle cx="284.5" cy="344.2" r="3.95"/></g></g>
<g><path d="M492.1 356.48v1.7M492.1 346.76v1.7M492.1 341.9v1.7M492.1 337.03v1.7M492.1 332.17v1.7M492.1 322.45v1.7M492.1 317.59v1.7M492.1 312.73v1.7M492.1 307.87v1.7M497.66 356.48v1.7M497.66 346.76v1.7M497.66 341.9v1.7M497.66 337.03v1.7M497.66 332.17v1.7M497.66 322.45v1.7M497.66 317.59v1.7M497.66 312.73v1.7M497.66 307.87v1.7M503.22 356.48v1.7M503.22 346.76v1.7M503.22 341.9v1.7M503.22 337.03v1.7M503.22 332.17v1.7M503.22 322.45v1.7M503.22 317.59v1.7M503.22 312.73v1.7M503.22 307.87v1.7M508.77 356.48v1.7M508.77 346.76v1.7M508.77 341.9v1.7M508.77 337.03v1.7M508.77 332.17v1.7M508.77 322.45v1.7M508.77 317.59v1.7M508.77 312.73v1.7M508.77 307.87v1.7M514.33 356.48v1.7M514.33 346.76v1.7M514.33 341.9v1.7M514.33 337.03v1.7M514.33 332.17v1.7M514.33 322.45v1.7M514.33 317.59v1.7M514.33 312.73v1.7M514.33 307.87v1.7M519.89 356.48v1.7M519.89 346.76v1.7M519.89 341.9v1.7M519.89 337.03v1.7M519.89 332.17v1.7M519.89 322.45v1.7M519.89 317.59v1.7M519.89 312.73v1.7M519.89 307.87v1.7M525.45 356.48v1.7M525.45 346.76v1.7M525.45 341.9v1.7M525.45 337.03v1.7M525.45 332.17v1.7M525.45 322.45v1.7M525.45 317.59v1.7M525.45 312.73v1.7M525.45 307.87v1.7M531.01 356.48v1.7M531.01 346.76v1.7M531.01 341.9v1.7M531.01 337.03v1.7M531.01 332.17v1.7M531.01 322.45v1.7M531.01 317.59v1.7M531.01 312.73v1.7M531.01 307.87v1.7M536.56 356.48v1.7M536.56 346.76v1.7M536.56 341.9v1.7M536.56 337.03v1.7M536.56 332.17v1.7M536.56 322.45v1.7M536.56 317.59v1.7M536.56 312.73v1.7M536.56 307.87v1.7M542.12 356.48v1.7M542.12 346.76v1.7M542.12 341.9v1.7M542.12 337.03v1.7M542.12 332.17v1.7M542.12 322.45v1.7M542.12 317.59v1.7M542.12 312.73v1.7M542.12 307.87v1.7M547.68 356.48v1.7M547.68 346.76v1.7M547.68 341.9v1.7M547.68 337.03v1.7M547.68 332.17v1.7M547.68 322.45v1.7M547.68 317.59v1.7M547.68 312.73v1.7M547.68 307.87v1.7M553.24 356.48v1.7M553.24 346.76v1.7M553.24 341.9v1.7M553.24 337.03v1.7M553.24 332.17v1.7M553.24 322.45v1.7M553.24 317.59v1.7M553.24 312.73v1.7M553.24 307.87v1.7M558.8 356.48v1.7M558.8 346.76v1.7M558.8 341.9v1.7M558.8 337.03v1.7M558.8 332.17v1.7M558.8 322.45v1.7M558.8 317.59v1.7M558.8 312.73v1.7M558.8 307.87v1.7M564.35 356.48v1.7M564.35 346.76v1.7M564.35 341.9v1.7M564.35 337.03v1.7M564.35 332.17v1.7M564.35 322.45v1.7M564.35 317.59v1.7M564.35 312.73v1.7M564.35 307.87v1.7M569.91 356.48v1.7M569.91 346.76v1.7M569.91 341.9v1.7M569.91 337.03v1.7M569.91 332.17v1.7M569.91 322.45v1.7M569.91 317.59v1.7M569.91 312.73v1.7M569.91 307.87v1.7M575.47 356.48v1.7M575.47 346.76v1.7M575.47 341.9v1.7M575.47 337.03v1.7M575.47 332.17v1.7M575.47 322.45v1.7M575.47 317.59v1.7M575.47 312.73v1.7M575.47 307.87v1.7M581.03 356.48v1.7M581.03 346.76v1.7M581.03 341.9v1.7M581.03 337.03v1.7M581.03 332.17v1.7M581.03 322.45v1.7M581.03 317.59v1.7M581.03 312.73v1.7M581.03 307.87v1.7M586.59 356.48v1.7M586.59 346.76v1.7M586.59 341.9v1.7M586.59 337.03v1.7M586.59 332.17v1.7M586.59 322.45v1.7M586.59 317.59v1.7M586.59 312.73v1.7M586.59 307.87v1.7M592.14 356.48v1.7M592.14 346.76v1.7M592.14 341.9v1.7M592.14 337.03v1.7M592.14 332.17v1.7M592.14 322.45v1.7M592.14 317.59v1.7M592.14 312.73v1.7M592.14 307.87v1.7M597.7 356.48v1.7M597.7 346.76v1.7M597.7 341.9v1.7M597.7 337.03v1.7M597.7 332.17v1.7M597.7 322.45v1.7M597.7 317.59v1.7M597.7 312.73v1.7M597.7 307.87v1.7M603.26 356.48v1.7M603.26 346.76v1.7M603.26 341.9v1.7M603.26 337.03v1.7M603.26 332.17v1.7M603.26 322.45v1.7M603.26 317.59v1.7M603.26 312.73v1.7M603.26 307.87v1.7M608.82 356.48v1.7M608.82 346.76v1.7M608.82 341.9v1.7M608.82 337.03v1.7M608.82 332.17v1.7M608.82 322.45v1.7M608.82 317.59v1.7M608.82 312.73v1.7M608.82 307.87v1.7M614.38 356.48v1.7M614.38 346.76v1.7M614.38 341.9v1.7M614.38 337.03v1.7M614.38 332.17v1.7M614.38 322.45v1.7M614.38 317.59v1.7M614.38 312.73v1.7M614.38 307.87v1.7M619.93 356.48v1.7M619.93 346.76v1.7M619.93 341.9v1.7M619.93 337.03v1.7M619.93 332.17v1.7M619.93 322.45v1.7M619.93 317.59v1.7M619.93 312.73v1.7M619.93 307.87v1.7M625.49 356.48v1.7M625.49 346.76v1.7M625.49 341.9v1.7M625.49 337.03v1.7M625.49 332.17v1.7M625.49 322.45v1.7M625.49 317.59v1.7M625.49 312.73v1.7M625.49 307.87v1.7M631.05 356.48v1.7M631.05 346.76v1.7M631.05 341.9v1.7M631.05 337.03v1.7M631.05 332.17v1.7M631.05 322.45v1.7M631.05 317.59v1.7M631.05 312.73v1.7M631.05 307.87v1.7M636.61 356.48v1.7M636.61 346.76v1.7M636.61 341.9v1.7M636.61 337.03v1.7M636.61 332.17v1.7M636.61 322.45v1.7M636.61 317.59v1.7M636.61 312.73v1.7M636.61 307.87v1.7M642.17 356.48v1.7M642.17 346.76v1.7M642.17 341.9v1.7M642.17 337.03v1.7M642.17 332.17v1.7M642.17 322.45v1.7M642.17 317.59v1.7M642.17 312.73v1.7M642.17 307.87v1.7M647.72 356.48v1.7M647.72 346.76v1.7M647.72 341.9v1.7M647.72 337.03v1.7M647.72 332.17v1.7M647.72 322.45v1.7M647.72 317.59v1.7M647.72 312.73v1.7M647.72 307.87v1.7M653.28 356.48v1.7M653.28 346.76v1.7M653.28 341.9v1.7M653.28 337.03v1.7M653.28 332.17v1.7M653.28 322.45v1.7M653.28 317.59v1.7M653.28 312.73v1.7M653.28 307.87v1.7M658.84 356.48v1.7M658.84 346.76v1.7M658.84 341.9v1.7M658.84 337.03v1.7M658.84 332.17v1.7M658.84 322.45v1.7M658.84 317.59v1.7M658.84 312.73v1.7M658.84 307.87v1.7M664.4 356.48v1.7M664.4 346.76v1.7M664.4 341.9v1.7M664.4 337.03v1.7M664.4 332.17v1.7M664.4 322.45v1.7M664.4 317.59v1.7M664.4 312.73v1.7M664.4 307.87v1.7M669.96 356.48v1.7M669.96 346.76v1.7M669.96 341.9v1.7M669.96 337.03v1.7M669.96 332.17v1.7M669.96 322.45v1.7M669.96 317.59v1.7M669.96 312.73v1.7M669.96 307.87v1.7M675.51 356.48v1.7M675.51 346.76v1.7M675.51 341.9v1.7M675.51 337.03v1.7M675.51 332.17v1.7M675.51 322.45v1.7M675.51 317.59v1.7M675.51 312.73v1.7M675.51 307.87v1.7M681.07 356.48v1.7M681.07 346.76v1.7M681.07 341.9v1.7M681.07 337.03v1.7M681.07 332.17v1.7M681.07 322.45v1.7M681.07 317.59v1.7M681.07 312.73v1.7M681.07 307.87v1.7M686.63 356.48v1.7M686.63 346.76v1.7M686.63 341.9v1.7M686.63 337.03v1.7M686.63 332.17v1.7M686.63 322.45v1.7M686.63 317.59v1.7M686.63 312.73v1.7M686.63 307.87v1.7M692.19 356.48v1.7M692.19 346.76v1.7M692.19 341.9v1.7M692.19 337.03v1.7M692.19 332.17v1.7M692.19 322.45v1.7M692.19 317.59v1.7M692.19 312.73v1.7M692.19 307.87v1.7" stroke="#bababa" stroke-width="1.1" fill="none"/><path d="M532.1 299V360M573.7 299V360M615.3 299V360M656.9 299V360M490.5 352.47H698.5M490.5 328.16H698.5M490.5 303.86H698.5" stroke="#dedede" stroke-width="1.6" fill="none"/><path d="M490.5 360v-3.4M490.5 299v3.4M532.1 360v-3.4M532.1 299v3.4M573.7 360v-3.4M573.7 299v3.4M615.3 360v-3.4M615.3 299v3.4M656.9 360v-3.4M656.9 299v3.4M698.5 360v-3.4M698.5 299v3.4M490.5 352.47h3.4M698.5 352.47h-3.4M490.5 328.16h3.4M698.5 328.16h-3.4M490.5 303.86h3.4M698.5 303.86h-3.4" stroke="#262626" stroke-width="1.7" fill="none"/><rect x="490.5" y="299" width="208" height="61" fill="none" stroke="#262626" stroke-width="2"/><text class="t" x="482.2" y="359.6" text-anchor="end" textLength="10.37" lengthAdjust="spacingAndGlyphs">1</text><text class="t" x="482.2" y="335.9" text-anchor="end" textLength="10.37" lengthAdjust="spacingAndGlyphs">2</text><text class="t" x="482.2" y="312.2" text-anchor="end" textLength="10.37" lengthAdjust="spacingAndGlyphs">3</text><text class="l" transform="translate(460.2 329.5) rotate(-90)" text-anchor="middle" textLength="110.2" lengthAdjust="spacingAndGlyphs">H2OMIXRA</text><g class="m"><circle cx="500.9" cy="358.12" r="3.95"/><circle cx="502.2" cy="359.55" r="3.95"/><circle cx="503.5" cy="359.14" r="3.95"/><circle cx="504.8" cy="359.33" r="3.95"/><circle cx="506.1" cy="359.72" r="3.95"/><circle cx="507.4" cy="359.6" r="3.95"/><circle cx="508.7" cy="359.55" r="3.95"/><circle cx="510" cy="359.65" r="3.95"/><circle cx="511.3" cy="359.46" r="3.95"/><circle cx="512.6" cy="359.31" r="3.95"/><circle cx="513.9" cy="359.18" r="3.95"/><circle cx="515.2" cy="359.07" r="3.95"/><circle cx="516.5" cy="357.94" r="3.95"/><circle cx="517.8" cy="355.01" r="3.95"/><circle cx="519.1" cy="351.59" r="3.95"/><circle cx="520.4" cy="349.74" r="3.95"/><circle cx="521.7" cy="347.41" r="3.95"/><circle cx="523" cy="345.49" r="3.95"/><circle cx="524.3" cy="344.07" r="3.95"/><circle cx="525.6" cy="343.03" r="3.95"/><circle cx="526.9" cy="340.66" r="3.95"/><circle cx="528.2" cy="339.3" r="3.95"/><circle cx="529.5" cy="337.21" r="3.95"/><circle cx="530.8" cy="335.86" r="3.95"/><circle cx="532.1" cy="333.46" r="3.95"/><circle cx="533.4" cy="331.45" r="3.95"/><circle cx="534.7" cy="329.49" r="3.95"/><circle cx="536" cy="327.55" r="3.95"/><circle cx="537.3" cy="325.73" r="3.95"/><circle cx="538.6" cy="323.51" r="3.95"/><circle cx="539.9" cy="322.2" r="3.95"/><circle cx="541.2" cy="319.91" r="3.95"/><circle cx="542.5" cy="319.1" r="3.95"/><circle cx="543.8" cy="317.96" r="3.95"/><circle cx="545.1" cy="317.01" r="3.95"/><circle cx="546.4" cy="316.95" r="3.95"/><circle cx="547.7" cy="316.55" r="3.95"/><circle cx="549" cy="315.66" r="3.95"/><circle cx="550.3" cy="315.32" r="3.95"/><circle cx="551.6" cy="315.2" r="3.95"/><circle cx="552.9" cy="315.12" r="3.95"/><circle cx="554.2" cy="314.72" r="3.95"/><circle cx="555.5" cy="314.18" r="3.95"/><circle cx="556.8" cy="313.55" r="3.95"/><circle cx="558.1" cy="312.47" r="3.95"/><circle cx="559.4" cy="311.9" r="3.95"/><circle cx="560.7" cy="310.87" r="3.95"/><circle cx="562" cy="310.97" r="3.95"/><circle cx="563.3" cy="311.36" r="3.95"/><circle cx="564.6" cy="312.12" r="3.95"/><circle cx="565.9" cy="313.29" r="3.95"/><circle cx="567.2" cy="314.95" r="3.95"/><circle cx="568.5" cy="314.96" r="3.95"/><circle cx="569.8" cy="316.26" r="3.95"/><circle cx="571.1" cy="316.87" r="3.95"/><circle cx="572.4" cy="317.46" r="3.95"/><circle cx="573.7" cy="317.42" r="3.95"/><circle cx="575" cy="317.75" r="3.95"/><circle cx="576.3" cy="317.78" r="3.95"/><circle cx="577.6" cy="317.83" r="3.95"/><circle cx="578.9" cy="318.18" r="3.95"/><circle cx="580.2" cy="319.86" r="3.95"/><circle cx="581.5" cy="322.31" r="3.95"/><circle cx="582.8" cy="325.57" r="3.95"/><circle cx="584.1" cy="327.38" r="3.95"/><circle cx="585.4" cy="326.27" r="3.95"/><circle cx="586.7" cy="324.15" r="3.95"/><circle cx="588" cy="321.7" r="3.95"/><circle cx="589.3" cy="322.47" r="3.95"/><circle cx="590.6" cy="322.36" r="3.95"/><circle cx="591.9" cy="322.19" r="3.95"/><circle cx="593.2" cy="322.22" r="3.95"/><circle cx="594.5" cy="322.48" r="3.95"/><circle cx="595.8" cy="322.59" r="3.95"/><circle cx="597.1" cy="323.31" r="3.95"/><circle cx="598.4" cy="323.2" r="3.95"/><circle cx="599.7" cy="324.04" r="3.95"/><circle cx="601" cy="323.92" r="3.95"/><circle cx="602.3" cy="323.33" r="3.95"/><circle cx="603.6" cy="323.07" r="3.95"/><circle cx="604.9" cy="323.07" r="3.95"/><circle cx="606.2" cy="322.62" r="3.95"/><circle cx="607.5" cy="321.59" r="3.95"/><circle cx="608.8" cy="321.98" r="3.95"/><circle cx="610.1" cy="321.55" r="3.95"/><circle cx="611.4" cy="320.71" r="3.95"/><circle cx="612.7" cy="320.76" r="3.95"/><circle cx="614" cy="320.31" r="3.95"/><circle cx="615.3" cy="319.83" r="3.95"/><circle cx="616.6" cy="319.96" r="3.95"/><circle cx="617.9" cy="320.03" r="3.95"/><circle cx="619.2" cy="320" r="3.95"/><circle cx="620.5" cy="321.13" r="3.95"/><circle cx="626.2" cy="306.19" r="3.95"/><circle cx="627.5" cy="305.05" r="3.95"/><circle cx="628.8" cy="305.36" r="3.95"/><circle cx="630.1" cy="304.92" r="3.95"/><circle cx="631.4" cy="305.54" r="3.95"/><circle cx="632.7" cy="305.62" r="3.95"/><circle cx="634" cy="305.31" r="3.95"/><circle cx="635.3" cy="304.59" r="3.95"/><circle cx="636.6" cy="304.73" r="3.95"/><circle cx="637.9" cy="304.53" r="3.95"/><circle cx="639.2" cy="303.24" r="3.95"/><circle cx="640.5" cy="301.59" r="3.95"/><circle cx="641.8" cy="300.69" r="3.95"/><circle cx="643.1" cy="299.35" r="3.95"/><circle cx="644.4" cy="299.88" r="3.95"/><circle cx="645.7" cy="300.71" r="3.95"/><circle cx="647" cy="301.65" r="3.95"/><circle cx="648.3" cy="302.72" r="3.95"/><circle cx="649.6" cy="304.22" r="3.95"/><circle cx="650.9" cy="306.1" r="3.95"/><circle cx="652.2" cy="308.76" r="3.95"/><circle cx="653.5" cy="311.61" r="3.95"/><circle cx="654.8" cy="313.77" r="3.95"/><circle cx="656.1" cy="315.95" r="3.95"/><circle cx="657.4" cy="316.2" r="3.95"/><circle cx="658.7" cy="316.36" r="3.95"/><circle cx="660" cy="316.66" r="3.95"/><circle cx="661.3" cy="316.3" r="3.95"/><circle cx="662.6" cy="316.08" r="3.95"/><circle cx="663.9" cy="316.8" r="3.95"/><circle cx="665.2" cy="316.62" r="3.95"/><circle cx="666.5" cy="316.27" r="3.95"/><circle cx="667.8" cy="316.27" r="3.95"/><circle cx="523.4" cy="338.4" r="3.95"/><circle cx="524.6" cy="339.6" r="3.95"/><circle cx="621.2" cy="308.5" r="3.95"/><circle cx="622.6" cy="311.3" r="3.95"/><circle cx="623.7" cy="313.6" r="3.95"/><circle cx="625" cy="316.9" r="3.95"/><circle cx="626.6" cy="320.1" r="3.95"/><circle cx="631.6" cy="314.3" r="3.95"/><circle cx="623.9" cy="306.9" r="3.95"/><circle cx="622.3" cy="318.6" r="3.95"/></g></g>
<g><path d="M149.1 480.22v1.7M149.1 473.69v1.7M149.1 467.16v1.7M149.1 454.1v1.7M149.1 447.57v1.7M149.1 441.05v1.7M149.1 427.99v1.7M154.66 480.22v1.7M154.66 473.69v1.7M154.66 467.16v1.7M154.66 454.1v1.7M154.66 447.57v1.7M154.66 441.05v1.7M154.66 427.99v1.7M160.22 480.22v1.7M160.22 473.69v1.7M160.22 467.16v1.7M160.22 454.1v1.7M160.22 447.57v1.7M160.22 441.05v1.7M160.22 427.99v1.7M165.77 480.22v1.7M165.77 473.69v1.7M165.77 467.16v1.7M165.77 454.1v1.7M165.77 447.57v1.7M165.77 441.05v1.7M165.77 427.99v1.7M171.33 480.22v1.7M171.33 473.69v1.7M171.33 467.16v1.7M171.33 454.1v1.7M171.33 447.57v1.7M171.33 441.05v1.7M171.33 427.99v1.7M176.89 480.22v1.7M176.89 473.69v1.7M176.89 467.16v1.7M176.89 454.1v1.7M176.89 447.57v1.7M176.89 441.05v1.7M176.89 427.99v1.7M182.45 480.22v1.7M182.45 473.69v1.7M182.45 467.16v1.7M182.45 454.1v1.7M182.45 447.57v1.7M182.45 441.05v1.7M182.45 427.99v1.7M188.01 480.22v1.7M188.01 473.69v1.7M188.01 467.16v1.7M188.01 454.1v1.7M188.01 447.57v1.7M188.01 441.05v1.7M188.01 427.99v1.7M193.56 480.22v1.7M193.56 473.69v1.7M193.56 467.16v1.7M193.56 454.1v1.7M193.56 447.57v1.7M193.56 441.05v1.7M193.56 427.99v1.7M199.12 480.22v1.7M199.12 473.69v1.7M199.12 467.16v1.7M199.12 454.1v1.7M199.12 447.57v1.7M199.12 441.05v1.7M199.12 427.99v1.7M204.68 480.22v1.7M204.68 473.69v1.7M204.68 467.16v1.7M204.68 454.1v1.7M204.68 447.57v1.7M204.68 441.05v1.7M204.68 427.99v1.7M210.24 480.22v1.7M210.24 473.69v1.7M210.24 467.16v1.7M210.24 454.1v1.7M210.24 447.57v1.7M210.24 441.05v1.7M210.24 427.99v1.7M215.8 480.22v1.7M215.8 473.69v1.7M215.8 467.16v1.7M215.8 454.1v1.7M215.8 447.57v1.7M215.8 441.05v1.7M215.8 427.99v1.7M221.35 480.22v1.7M221.35 473.69v1.7M221.35 467.16v1.7M221.35 454.1v1.7M221.35 447.57v1.7M221.35 441.05v1.7M221.35 427.99v1.7M226.91 480.22v1.7M226.91 473.69v1.7M226.91 467.16v1.7M226.91 454.1v1.7M226.91 447.57v1.7M226.91 441.05v1.7M226.91 427.99v1.7M232.47 480.22v1.7M232.47 473.69v1.7M232.47 467.16v1.7M232.47 454.1v1.7M232.47 447.57v1.7M232.47 441.05v1.7M232.47 427.99v1.7M238.03 480.22v1.7M238.03 473.69v1.7M238.03 467.16v1.7M238.03 454.1v1.7M238.03 447.57v1.7M238.03 441.05v1.7M238.03 427.99v1.7M243.59 480.22v1.7M243.59 473.69v1.7M243.59 467.16v1.7M243.59 454.1v1.7M243.59 447.57v1.7M243.59 441.05v1.7M243.59 427.99v1.7M249.14 480.22v1.7M249.14 473.69v1.7M249.14 467.16v1.7M249.14 454.1v1.7M249.14 447.57v1.7M249.14 441.05v1.7M249.14 427.99v1.7M254.7 480.22v1.7M254.7 473.69v1.7M254.7 467.16v1.7M254.7 454.1v1.7M254.7 447.57v1.7M254.7 441.05v1.7M254.7 427.99v1.7M260.26 480.22v1.7M260.26 473.69v1.7M260.26 467.16v1.7M260.26 454.1v1.7M260.26 447.57v1.7M260.26 441.05v1.7M260.26 427.99v1.7M265.82 480.22v1.7M265.82 473.69v1.7M265.82 467.16v1.7M265.82 454.1v1.7M265.82 447.57v1.7M265.82 441.05v1.7M265.82 427.99v1.7M271.38 480.22v1.7M271.38 473.69v1.7M271.38 467.16v1.7M271.38 454.1v1.7M271.38 447.57v1.7M271.38 441.05v1.7M271.38 427.99v1.7M276.93 480.22v1.7M276.93 473.69v1.7M276.93 467.16v1.7M276.93 454.1v1.7M276.93 447.57v1.7M276.93 441.05v1.7M276.93 427.99v1.7M282.49 480.22v1.7M282.49 473.69v1.7M282.49 467.16v1.7M282.49 454.1v1.7M282.49 447.57v1.7M282.49 441.05v1.7M282.49 427.99v1.7M288.05 480.22v1.7M288.05 473.69v1.7M288.05 467.16v1.7M288.05 454.1v1.7M288.05 447.57v1.7M288.05 441.05v1.7M288.05 427.99v1.7M293.61 480.22v1.7M293.61 473.69v1.7M293.61 467.16v1.7M293.61 454.1v1.7M293.61 447.57v1.7M293.61 441.05v1.7M293.61 427.99v1.7M299.17 480.22v1.7M299.17 473.69v1.7M299.17 467.16v1.7M299.17 454.1v1.7M299.17 447.57v1.7M299.17 441.05v1.7M299.17 427.99v1.7M304.72 480.22v1.7M304.72 473.69v1.7M304.72 467.16v1.7M304.72 454.1v1.7M304.72 447.57v1.7M304.72 441.05v1.7M304.72 427.99v1.7M310.28 480.22v1.7M310.28 473.69v1.7M310.28 467.16v1.7M310.28 454.1v1.7M310.28 447.57v1.7M310.28 441.05v1.7M310.28 427.99v1.7M315.84 480.22v1.7M315.84 473.69v1.7M315.84 467.16v1.7M315.84 454.1v1.7M315.84 447.57v1.7M315.84 441.05v1.7M315.84 427.99v1.7M321.4 480.22v1.7M321.4 473.69v1.7M321.4 467.16v1.7M321.4 454.1v1.7M321.4 447.57v1.7M321.4 441.05v1.7M321.4 427.99v1.7M326.96 480.22v1.7M326.96 473.69v1.7M326.96 467.16v1.7M326.96 454.1v1.7M326.96 447.57v1.7M326.96 441.05v1.7M326.96 427.99v1.7M332.51 480.22v1.7M332.51 473.69v1.7M332.51 467.16v1.7M332.51 454.1v1.7M332.51 447.57v1.7M332.51 441.05v1.7M332.51 427.99v1.7M338.07 480.22v1.7M338.07 473.69v1.7M338.07 467.16v1.7M338.07 454.1v1.7M338.07 447.57v1.7M338.07 441.05v1.7M338.07 427.99v1.7M343.63 480.22v1.7M343.63 473.69v1.7M343.63 467.16v1.7M343.63 454.1v1.7M343.63 447.57v1.7M343.63 441.05v1.7M343.63 427.99v1.7M349.19 480.22v1.7M349.19 473.69v1.7M349.19 467.16v1.7M349.19 454.1v1.7M349.19 447.57v1.7M349.19 441.05v1.7M349.19 427.99v1.7" stroke="#bababa" stroke-width="1.1" fill="none"/><path d="M189.1 427.4V487.6M230.7 427.4V487.6M272.3 427.4V487.6M313.9 427.4V487.6M147.5 461.48H355.5M147.5 435.37H355.5" stroke="#dedede" stroke-width="1.6" fill="none"/><path d="M147.5 487.6v-3.4M147.5 427.4v3.4M189.1 487.6v-3.4M189.1 427.4v3.4M230.7 487.6v-3.4M230.7 427.4v3.4M272.3 487.6v-3.4M272.3 427.4v3.4M313.9 487.6v-3.4M313.9 427.4v3.4M355.5 487.6v-3.4M355.5 427.4v3.4M147.5 487.6h3.4M355.5 487.6h-3.4M147.5 461.48h3.4M355.5 461.48h-3.4M147.5 435.37h3.4M355.5 435.37h-3.4" stroke="#262626" stroke-width="1.7" fill="none"/><rect x="147.5" y="427.4" width="208" height="60.2" fill="none" stroke="#262626" stroke-width="2"/><text class="t" x="138.4" y="493.8" text-anchor="end" textLength="10.37" lengthAdjust="spacingAndGlyphs">0</text><text class="t" x="138.4" y="468.7" text-anchor="end" textLength="32.1" lengthAdjust="spacingAndGlyphs">200</text><text class="t" x="138.4" y="442.4" text-anchor="end" textLength="32.1" lengthAdjust="spacingAndGlyphs">400</text><text class="l" transform="translate(85.9 457.3) rotate(-90)" text-anchor="middle" textLength="89.3" lengthAdjust="spacingAndGlyphs">TERR<tspan dy="9.5" font-size="17.36">M</tspan><tspan dy="-9.5">SL</tspan></text><g class="m"><circle cx="157.9" cy="487.6" r="3.95"/><circle cx="159.2" cy="487.6" r="3.95"/><circle cx="160.5" cy="487.6" r="3.95"/><circle cx="161.8" cy="487.6" r="3.95"/><circle cx="163.1" cy="487.6" r="3.95"/><circle cx="164.4" cy="487.6" r="3.95"/><circle cx="165.7" cy="487.6" r="3.95"/><circle cx="167" cy="487.6" r="3.95"/><circle cx="168.3" cy="487.6" r="3.95"/><circle cx="169.6" cy="487.6" r="3.95"/><circle cx="170.9" cy="487.6" r="3.95"/><circle cx="172.2" cy="487.6" r="3.95"/><circle cx="173.5" cy="487.6" r="3.95"/><circle cx="174.8" cy="487.6" r="3.95"/><circle cx="176.1" cy="487.6" r="3.95"/><circle cx="177.4" cy="487.6" r="3.95"/><circle cx="178.7" cy="487.6" r="3.95"/><circle cx="180" cy="487.6" r="3.95"/><circle cx="181.3" cy="487.6" r="3.95"/><circle cx="182.6" cy="487.6" r="3.95"/><circle cx="183.9" cy="487.6" r="3.95"/><circle cx="185.2" cy="487.6" r="3.95"/><circle cx="186.5" cy="487.6" r="3.95"/><circle cx="187.8" cy="487.6" r="3.95"/><circle cx="189.1" cy="487.6" r="3.95"/><circle cx="190.4" cy="487.6" r="3.95"/><circle cx="191.7" cy="487.6" r="3.95"/><circle cx="193" cy="487.6" r="3.95"/><circle cx="194.3" cy="487.6" r="3.95"/><circle cx="195.6" cy="487.6" r="3.95"/><circle cx="196.9" cy="487.6" r="3.95"/><circle cx="198.2" cy="487.6" r="3.95"/><circle cx="199.5" cy="487.6" r="3.95"/><circle cx="200.8" cy="487.6" r="3.95"/><circle cx="202.1" cy="487.6" r="3.95"/><circle cx="203.4" cy="487.6" r="3.95"/><circle cx="204.7" cy="487.6" r="3.95"/><circle cx="206" cy="487.6" r="3.95"/><circle cx="207.3" cy="487.6" r="3.95"/><circle cx="208.6" cy="487.6" r="3.95"/><circle cx="209.9" cy="487.6" r="3.95"/><circle cx="211.2" cy="487.6" r="3.95"/><circle cx="212.5" cy="487.6" r="3.95"/><circle cx="213.8" cy="487.6" r="3.95"/><circle cx="215.1" cy="487.6" r="3.95"/><circle cx="216.4" cy="487.6" r="3.95"/><circle cx="217.7" cy="487.6" r="3.95"/><circle cx="219" cy="487.6" r="3.95"/><circle cx="220.3" cy="487.6" r="3.95"/><circle cx="221.6" cy="487.6" r="3.95"/><circle cx="222.9" cy="487.6" r="3.95"/><circle cx="224.2" cy="487.6" r="3.95"/><circle cx="225.5" cy="487.6" r="3.95"/><circle cx="226.8" cy="487.6" r="3.95"/><circle cx="195.3" cy="486.5" r="3.95"/><circle cx="229.8" cy="482.3" r="3.95"/><circle cx="230.8" cy="480.3" r="3.95"/><circle cx="231.7" cy="478.5" r="3.95"/><circle cx="233" cy="476.6" r="3.95"/><circle cx="234.3" cy="475.2" r="3.95"/><circle cx="236.2" cy="474.6" r="3.95"/><circle cx="237.5" cy="457.2" r="3.95"/><circle cx="238.8" cy="435.4" r="3.95"/><circle cx="241" cy="427.3" r="3.95"/><circle cx="242.7" cy="435.4" r="3.95"/><circle cx="263.9" cy="437.3" r="3.95"/><circle cx="263.6" cy="435.4" r="3.95"/><circle cx="265.8" cy="442.4" r="3.95"/><circle cx="267.3" cy="454" r="3.95"/><circle cx="268.1" cy="455.4" r="3.95"/><circle cx="270.3" cy="461.7" r="3.95"/><circle cx="272.2" cy="470.7" r="3.95"/><circle cx="273.5" cy="474.6" r="3.95"/><circle cx="274.8" cy="478.5" r="3.95"/><circle cx="276.5" cy="482.4" r="3.95"/><circle cx="278" cy="485" r="3.95"/><circle cx="273.9" cy="472.5" r="3.95"/><circle cx="275.9" cy="474.2" r="3.95"/><circle cx="277.5" cy="475.5" r="3.95"/><circle cx="279.2" cy="475.3" r="3.95"/><circle cx="280.6" cy="475.2" r="3.95"/><circle cx="282.5" cy="475.9" r="3.95"/><circle cx="281.5" cy="480" r="3.95"/><circle cx="279.5" cy="483" r="3.95"/><circle cx="242.7" cy="441.26" r="3.95"/><circle cx="243.45" cy="443.04" r="3.95"/><circle cx="244.2" cy="445.53" r="3.95"/><circle cx="244.95" cy="447.14" r="3.95"/><circle cx="245.7" cy="447.01" r="3.95"/><circle cx="246.45" cy="449.14" r="3.95"/><circle cx="247.2" cy="449.11" r="3.95"/><circle cx="247.95" cy="450.29" r="3.95"/><circle cx="248.7" cy="451.03" r="3.95"/><circle cx="249.45" cy="451.46" r="3.95"/><circle cx="250.2" cy="450.4" r="3.95"/><circle cx="250.95" cy="451.05" r="3.95"/><circle cx="251.7" cy="451.72" r="3.95"/><circle cx="252.45" cy="452.38" r="3.95"/><circle cx="253.2" cy="450.82" r="3.95"/><circle cx="253.95" cy="450.96" r="3.95"/><circle cx="254.7" cy="451.55" r="3.95"/><circle cx="255.45" cy="449.98" r="3.95"/><circle cx="256.2" cy="450.02" r="3.95"/><circle cx="256.95" cy="449.28" r="3.95"/><circle cx="257.7" cy="449.18" r="3.95"/><circle cx="258.45" cy="448.71" r="3.95"/><circle cx="259.2" cy="446.62" r="3.95"/><circle cx="259.95" cy="446.4" r="3.95"/><circle cx="260.7" cy="445.17" r="3.95"/><circle cx="261.45" cy="443.59" r="3.95"/><circle cx="279.5" cy="487.6" r="3.95"/><circle cx="280.8" cy="487.6" r="3.95"/><circle cx="282.1" cy="487.6" r="3.95"/><circle cx="283.4" cy="487.6" r="3.95"/><circle cx="284.7" cy="487.6" r="3.95"/><circle cx="286" cy="487.6" r="3.95"/><circle cx="287.3" cy="487.6" r="3.95"/><circle cx="288.6" cy="487.6" r="3.95"/><circle cx="289.9" cy="487.6" r="3.95"/><circle cx="291.2" cy="487.6" r="3.95"/><circle cx="292.5" cy="487.6" r="3.95"/><circle cx="293.8" cy="487.6" r="3.95"/><circle cx="295.1" cy="487.6" r="3.95"/><circle cx="296.4" cy="487.6" r="3.95"/><circle cx="297.7" cy="487.6" r="3.95"/><circle cx="299" cy="487.6" r="3.95"/><circle cx="300.3" cy="487.6" r="3.95"/><circle cx="301.6" cy="487.6" r="3.95"/><circle cx="302.9" cy="487.6" r="3.95"/><circle cx="304.2" cy="487.6" r="3.95"/><circle cx="305.5" cy="487.6" r="3.95"/><circle cx="306.8" cy="487.6" r="3.95"/><circle cx="308.1" cy="487.6" r="3.95"/><circle cx="309.4" cy="487.6" r="3.95"/><circle cx="310.7" cy="487.6" r="3.95"/><circle cx="312" cy="487.6" r="3.95"/><circle cx="313.3" cy="487.6" r="3.95"/><circle cx="314.6" cy="487.6" r="3.95"/><circle cx="315.9" cy="487.6" r="3.95"/><circle cx="317.2" cy="487.6" r="3.95"/><circle cx="318.5" cy="487.6" r="3.95"/><circle cx="319.8" cy="487.6" r="3.95"/><circle cx="321.1" cy="487.6" r="3.95"/><circle cx="322.4" cy="487.6" r="3.95"/><circle cx="323.7" cy="487.6" r="3.95"/><circle cx="313.8" cy="483.7" r="3.95"/><circle cx="324.7" cy="483.7" r="3.95"/><circle cx="323" cy="485.5" r="3.95"/></g><text class="t" transform="translate(160.7 510.2) rotate(-45)" text-anchor="end" textLength="49.94" lengthAdjust="spacingAndGlyphs">03/25</text><text class="t" transform="translate(202.3 510.2) rotate(-45)" text-anchor="end" textLength="49.94" lengthAdjust="spacingAndGlyphs">03/26</text><text class="t" transform="translate(243.9 510.2) rotate(-45)" text-anchor="end" textLength="49.94" lengthAdjust="spacingAndGlyphs">03/27</text><text class="t" transform="translate(285.5 510.2) rotate(-45)" text-anchor="end" textLength="49.94" lengthAdjust="spacingAndGlyphs">03/28</text><text class="t" transform="translate(327.1 510.2) rotate(-45)" text-anchor="end" textLength="49.94" lengthAdjust="spacingAndGlyphs">03/29</text><text class="t" transform="translate(368.7 510.2) rotate(-45)" text-anchor="end" textLength="49.94" lengthAdjust="spacingAndGlyphs">03/30</text><text class="l" x="251.5" y="575.5" text-anchor="middle" textLength="49.3" lengthAdjust="spacingAndGlyphs">Time</text></g>
<g><path d="M492.1 475.5v1.7M492.1 464.25v1.7M492.1 452.99v1.7M492.1 441.74v1.7M497.66 475.5v1.7M497.66 464.25v1.7M497.66 452.99v1.7M497.66 441.74v1.7M503.22 475.5v1.7M503.22 464.25v1.7M503.22 452.99v1.7M503.22 441.74v1.7M508.77 475.5v1.7M508.77 464.25v1.7M508.77 452.99v1.7M508.77 441.74v1.7M514.33 475.5v1.7M514.33 464.25v1.7M514.33 452.99v1.7M514.33 441.74v1.7M519.89 475.5v1.7M519.89 464.25v1.7M519.89 452.99v1.7M519.89 441.74v1.7M525.45 475.5v1.7M525.45 464.25v1.7M525.45 452.99v1.7M525.45 441.74v1.7M531.01 475.5v1.7M531.01 464.25v1.7M531.01 452.99v1.7M531.01 441.74v1.7M536.56 475.5v1.7M536.56 464.25v1.7M536.56 452.99v1.7M536.56 441.74v1.7M542.12 475.5v1.7M542.12 464.25v1.7M542.12 452.99v1.7M542.12 441.74v1.7M547.68 475.5v1.7M547.68 464.25v1.7M547.68 452.99v1.7M547.68 441.74v1.7M553.24 475.5v1.7M553.24 464.25v1.7M553.24 452.99v1.7M553.24 441.74v1.7M558.8 475.5v1.7M558.8 464.25v1.7M558.8 452.99v1.7M558.8 441.74v1.7M564.35 475.5v1.7M564.35 464.25v1.7M564.35 452.99v1.7M564.35 441.74v1.7M569.91 475.5v1.7M569.91 464.25v1.7M569.91 452.99v1.7M569.91 441.74v1.7M575.47 475.5v1.7M575.47 464.25v1.7M575.47 452.99v1.7M575.47 441.74v1.7M581.03 475.5v1.7M581.03 464.25v1.7M581.03 452.99v1.7M581.03 441.74v1.7M586.59 475.5v1.7M586.59 464.25v1.7M586.59 452.99v1.7M586.59 441.74v1.7M592.14 475.5v1.7M592.14 464.25v1.7M592.14 452.99v1.7M592.14 441.74v1.7M597.7 475.5v1.7M597.7 464.25v1.7M597.7 452.99v1.7M597.7 441.74v1.7M603.26 475.5v1.7M603.26 464.25v1.7M603.26 452.99v1.7M603.26 441.74v1.7M608.82 475.5v1.7M608.82 464.25v1.7M608.82 452.99v1.7M608.82 441.74v1.7M614.38 475.5v1.7M614.38 464.25v1.7M614.38 452.99v1.7M614.38 441.74v1.7M619.93 475.5v1.7M619.93 464.25v1.7M619.93 452.99v1.7M619.93 441.74v1.7M625.49 475.5v1.7M625.49 464.25v1.7M625.49 452.99v1.7M625.49 441.74v1.7M631.05 475.5v1.7M631.05 464.25v1.7M631.05 452.99v1.7M631.05 441.74v1.7M636.61 475.5v1.7M636.61 464.25v1.7M636.61 452.99v1.7M636.61 441.74v1.7M642.17 475.5v1.7M642.17 464.25v1.7M642.17 452.99v1.7M642.17 441.74v1.7M647.72 475.5v1.7M647.72 464.25v1.7M647.72 452.99v1.7M647.72 441.74v1.7M653.28 475.5v1.7M653.28 464.25v1.7M653.28 452.99v1.7M653.28 441.74v1.7M658.84 475.5v1.7M658.84 464.25v1.7M658.84 452.99v1.7M658.84 441.74v1.7M664.4 475.5v1.7M664.4 464.25v1.7M664.4 452.99v1.7M664.4 441.74v1.7M669.96 475.5v1.7M669.96 464.25v1.7M669.96 452.99v1.7M669.96 441.74v1.7M675.51 475.5v1.7M675.51 464.25v1.7M675.51 452.99v1.7M675.51 441.74v1.7M681.07 475.5v1.7M681.07 464.25v1.7M681.07 452.99v1.7M681.07 441.74v1.7M686.63 475.5v1.7M686.63 464.25v1.7M686.63 452.99v1.7M686.63 441.74v1.7M692.19 475.5v1.7M692.19 464.25v1.7M692.19 452.99v1.7M692.19 441.74v1.7" stroke="#bababa" stroke-width="1.1" fill="none"/><path d="M532.1 427.4V487.6M573.7 427.4V487.6M615.3 427.4V487.6M656.9 427.4V487.6M490.5 431.34H698.5" stroke="#dedede" stroke-width="1.6" fill="none"/><path d="M490.5 487.6v-3.4M490.5 427.4v3.4M532.1 487.6v-3.4M532.1 427.4v3.4M573.7 487.6v-3.4M573.7 427.4v3.4M615.3 487.6v-3.4M615.3 427.4v3.4M656.9 487.6v-3.4M656.9 427.4v3.4M698.5 487.6v-3.4M698.5 427.4v3.4M490.5 487.6h3.4M698.5 487.6h-3.4M490.5 431.34h3.4M698.5 431.34h-3.4" stroke="#262626" stroke-width="1.7" fill="none"/><rect x="490.5" y="427.4" width="208" height="60.2" fill="none" stroke="#262626" stroke-width="2"/><text class="t" x="482.2" y="493.2" text-anchor="end" textLength="10.37" lengthAdjust="spacingAndGlyphs">0</text><text class="t" x="482.2" y="437.6" text-anchor="end" textLength="32.1" lengthAdjust="spacingAndGlyphs">500</text><text class="l" transform="translate(399 457) rotate(-90)" text-anchor="middle" textLength="93.7" lengthAdjust="spacingAndGlyphs">SUN<tspan dy="9.5" font-size="17.36">F</tspan><tspan dy="-9.5">LUX</tspan></text><g class="m"><circle cx="500.48" cy="486.62" r="3.95"/><circle cx="502.15" cy="484.95" r="3.95"/><circle cx="503.69" cy="483.02" r="3.95"/><circle cx="505.36" cy="481.09" r="3.95"/><circle cx="506.91" cy="478.91" r="3.95"/><circle cx="508.32" cy="476.59" r="3.95"/><circle cx="509.86" cy="474.02" r="3.95"/><circle cx="511.15" cy="470.8" r="3.95"/><circle cx="512.44" cy="463.73" r="3.95"/><circle cx="514.62" cy="454.73" r="3.95"/><circle cx="516.42" cy="448.94" r="3.95"/><circle cx="518.23" cy="458.59" r="3.95"/><circle cx="519.9" cy="461.8" r="3.95"/><circle cx="521.7" cy="465.02" r="3.95"/><circle cx="522.98" cy="470.8" r="3.95"/><circle cx="525.04" cy="477.88" r="3.95"/><circle cx="526.59" cy="486.88" r="3.95"/><circle cx="527.49" cy="486.88" r="3.95"/><circle cx="528.39" cy="486.88" r="3.95"/><circle cx="529.29" cy="486.88" r="3.95"/><circle cx="530.19" cy="486.88" r="3.95"/><circle cx="531.09" cy="486.88" r="3.95"/><circle cx="531.99" cy="486.88" r="3.95"/><circle cx="532.89" cy="486.88" r="3.95"/><circle cx="533.79" cy="486.88" r="3.95"/><circle cx="534.69" cy="486.88" r="3.95"/><circle cx="535.59" cy="486.88" r="3.95"/><circle cx="536.49" cy="486.88" r="3.95"/><circle cx="537.39" cy="486.88" r="3.95"/><circle cx="538.29" cy="486.88" r="3.95"/><circle cx="539.19" cy="486.88" r="3.95"/><circle cx="540.09" cy="486.88" r="3.95"/><circle cx="540.99" cy="486.88" r="3.95"/><circle cx="541.89" cy="486.88" r="3.95"/><circle cx="543.31" cy="481.74" r="3.95"/><circle cx="544.59" cy="477.88" r="3.95"/><circle cx="546.14" cy="474.02" r="3.95"/><circle cx="547.81" cy="470.8" r="3.95"/><circle cx="549.48" cy="463.73" r="3.95"/><circle cx="550.64" cy="454.08" r="3.95"/><circle cx="552.31" cy="450.87" r="3.95"/><circle cx="554.24" cy="440.58" r="3.95"/><circle cx="556.17" cy="432.86" r="3.95"/><circle cx="558.1" cy="427.07" r="3.95"/><circle cx="560.03" cy="434.79" r="3.95"/><circle cx="562.34" cy="444.44" r="3.95"/><circle cx="563.88" cy="450.87" r="3.95"/><circle cx="565.17" cy="461.16" r="3.95"/><circle cx="566.46" cy="474.02" r="3.95"/><circle cx="567.97" cy="486.88" r="3.95"/><circle cx="568.87" cy="486.88" r="3.95"/><circle cx="569.77" cy="486.88" r="3.95"/><circle cx="570.68" cy="486.88" r="3.95"/><circle cx="571.58" cy="486.88" r="3.95"/><circle cx="572.48" cy="486.88" r="3.95"/><circle cx="573.38" cy="486.88" r="3.95"/><circle cx="574.28" cy="486.88" r="3.95"/><circle cx="575.18" cy="486.88" r="3.95"/><circle cx="576.08" cy="486.88" r="3.95"/><circle cx="576.98" cy="486.88" r="3.95"/><circle cx="577.88" cy="486.88" r="3.95"/><circle cx="578.78" cy="486.88" r="3.95"/><circle cx="579.68" cy="486.88" r="3.95"/><circle cx="580.58" cy="486.88" r="3.95"/><circle cx="581.48" cy="486.88" r="3.95"/><circle cx="582.38" cy="486.88" r="3.95"/><circle cx="583.28" cy="486.88" r="3.95"/><circle cx="584.18" cy="486.88" r="3.95"/><circle cx="585.08" cy="486.88" r="3.95"/><circle cx="586.37" cy="475.31" r="3.95"/><circle cx="587.65" cy="463.09" r="3.95"/><circle cx="588.94" cy="451.51" r="3.95"/><circle cx="590.23" cy="448.94" r="3.95"/><circle cx="591.51" cy="445.72" r="3.95"/><circle cx="592.8" cy="442.51" r="3.95"/><circle cx="594.08" cy="439.29" r="3.95"/><circle cx="595.37" cy="435.43" r="3.95"/><circle cx="596.66" cy="432.22" r="3.95"/><circle cx="598.33" cy="429" r="3.95"/><circle cx="599.87" cy="427.07" r="3.95"/><circle cx="602.44" cy="434.15" r="3.95"/><circle cx="603.47" cy="441.86" r="3.95"/><circle cx="605.02" cy="449.58" r="3.95"/><circle cx="606.56" cy="461.8" r="3.95"/><circle cx="608.23" cy="474.66" r="3.95"/><circle cx="609.52" cy="486.88" r="3.95"/><circle cx="610.42" cy="486.88" r="3.95"/><circle cx="611.32" cy="486.88" r="3.95"/><circle cx="612.22" cy="486.88" r="3.95"/><circle cx="613.12" cy="486.88" r="3.95"/><circle cx="614.02" cy="486.88" r="3.95"/><circle cx="614.92" cy="486.88" r="3.95"/><circle cx="615.82" cy="486.88" r="3.95"/><circle cx="616.72" cy="486.88" r="3.95"/><circle cx="617.62" cy="486.88" r="3.95"/><circle cx="618.52" cy="486.88" r="3.95"/><circle cx="619.42" cy="486.88" r="3.95"/><circle cx="620.32" cy="486.88" r="3.95"/><circle cx="621.22" cy="486.88" r="3.95"/><circle cx="622.12" cy="486.88" r="3.95"/><circle cx="623.02" cy="486.88" r="3.95"/><circle cx="623.92" cy="486.88" r="3.95"/><circle cx="624.82" cy="486.88" r="3.95"/><circle cx="625.72" cy="486.88" r="3.95"/><circle cx="626.62" cy="486.88" r="3.95"/><circle cx="626.88" cy="479.81" r="3.95"/><circle cx="629.45" cy="469.52" r="3.95"/><circle cx="630.74" cy="456.66" r="3.95"/><circle cx="632.03" cy="454.08" r="3.95"/><circle cx="633.31" cy="450.87" r="3.95"/><circle cx="634.6" cy="447.65" r="3.95"/><circle cx="635.88" cy="444.44" r="3.95"/><circle cx="637.17" cy="442.51" r="3.95"/><circle cx="636.46" cy="441.86" r="3.95"/><circle cx="638.01" cy="444.44" r="3.95"/><circle cx="639.29" cy="447.65" r="3.95"/><circle cx="640.84" cy="450.87" r="3.95"/><circle cx="642.12" cy="454.08" r="3.95"/><circle cx="643.41" cy="457.3" r="3.95"/><circle cx="644.69" cy="460.51" r="3.95"/><circle cx="645.98" cy="463.73" r="3.95"/><circle cx="647.65" cy="470.16" r="3.95"/><circle cx="649.84" cy="478.52" r="3.95"/><circle cx="651.51" cy="486.88" r="3.95"/><circle cx="652.41" cy="486.88" r="3.95"/><circle cx="653.31" cy="486.88" r="3.95"/><circle cx="654.21" cy="486.88" r="3.95"/><circle cx="655.11" cy="486.88" r="3.95"/><circle cx="656.01" cy="486.88" r="3.95"/><circle cx="656.91" cy="486.88" r="3.95"/><circle cx="657.81" cy="486.88" r="3.95"/><circle cx="658.71" cy="486.88" r="3.95"/><circle cx="659.61" cy="486.88" r="3.95"/><circle cx="660.51" cy="486.88" r="3.95"/><circle cx="661.41" cy="486.88" r="3.95"/><circle cx="662.32" cy="486.88" r="3.95"/><circle cx="664.37" cy="485.85" r="3.95"/><circle cx="666.3" cy="484.57" r="3.95"/><circle cx="667.85" cy="483.28" r="3.95"/></g><text class="t" transform="translate(503.7 510.2) rotate(-45)" text-anchor="end" textLength="49.94" lengthAdjust="spacingAndGlyphs">03/25</text><text class="t" transform="translate(545.3 510.2) rotate(-45)" text-anchor="end" textLength="49.94" lengthAdjust="spacingAndGlyphs">03/26</text><text class="t" transform="translate(586.9 510.2) rotate(-45)" text-anchor="end" textLength="49.94" lengthAdjust="spacingAndGlyphs">03/27</text><text class="t" transform="translate(628.5 510.2) rotate(-45)" text-anchor="end" textLength="49.94" lengthAdjust="spacingAndGlyphs">03/28</text><text class="t" transform="translate(670.1 510.2) rotate(-45)" text-anchor="end" textLength="49.94" lengthAdjust="spacingAndGlyphs">03/29</text><text class="t" transform="translate(711.7 510.2) rotate(-45)" text-anchor="end" textLength="49.94" lengthAdjust="spacingAndGlyphs">03/30</text><text class="l" x="594.5" y="575.5" text-anchor="middle" textLength="49.3" lengthAdjust="spacingAndGlyphs">Time</text></g>
</svg></body></html>
